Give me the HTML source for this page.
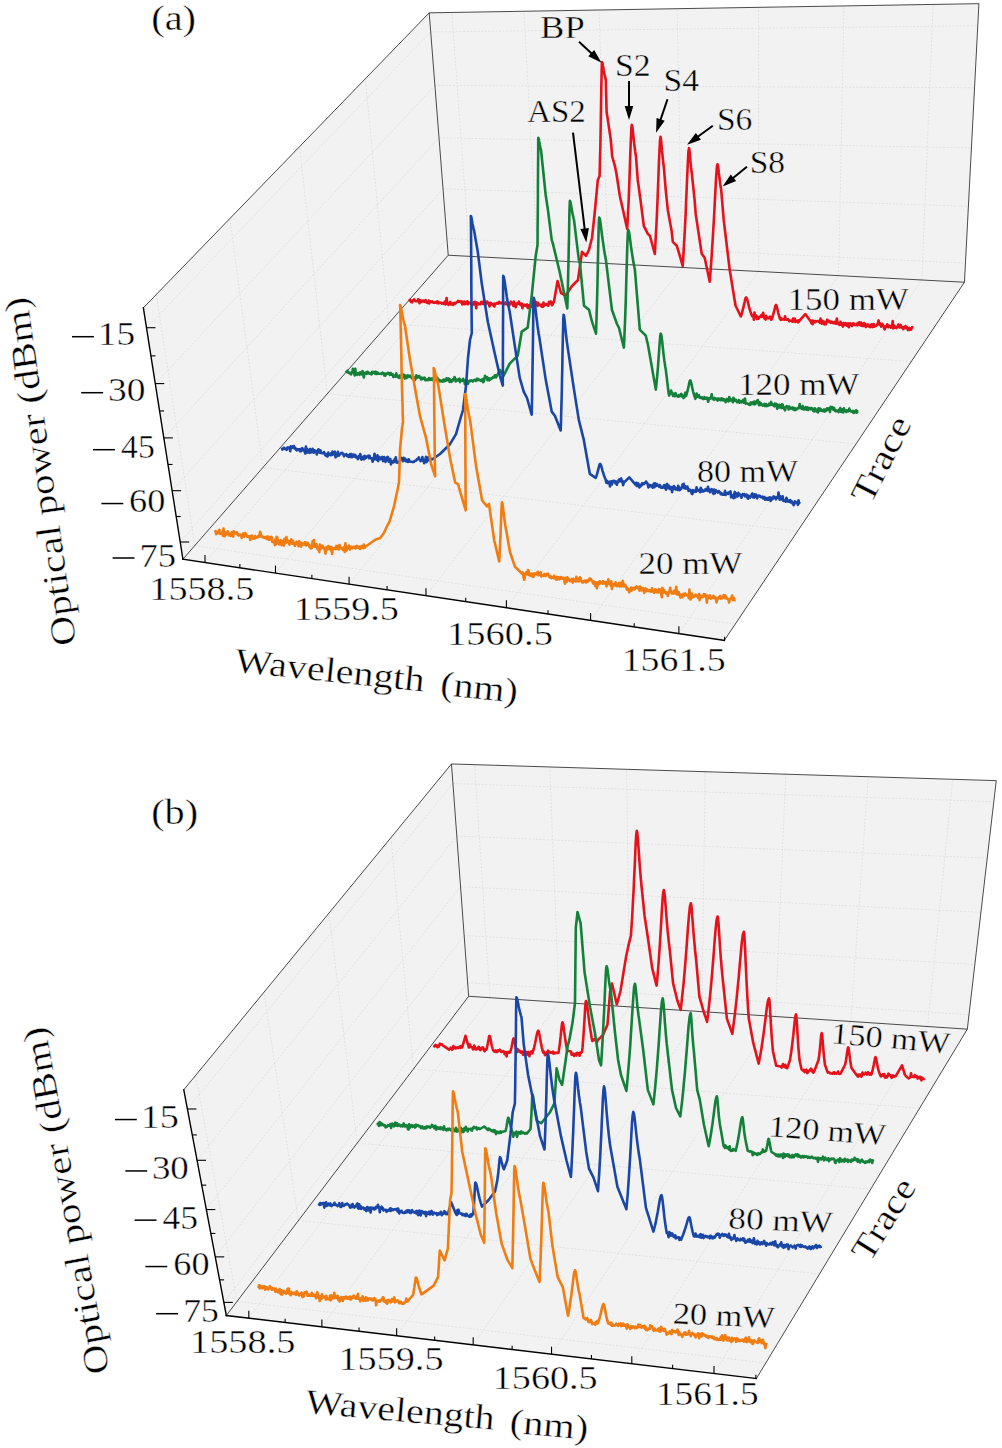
<!DOCTYPE html>
<html><head><meta charset="utf-8"><style>
html,body{margin:0;padding:0;background:#fff;overflow:hidden;width:1002px;height:1448px;}
svg{display:block;}
text{font-family:"Liberation Serif",serif;fill:#000;}
</style></head><body>
<svg width="1002" height="1448" viewBox="0 0 1002 1448">
<rect width="1002" height="1448" fill="#fff"/>
<polygon points="448.23,255.23 964.46,282.23 978.92,3.66 429.21,12.84" fill="#f2f2f2"/>
<polygon points="182.91,559.20 448.23,255.23 429.21,12.84 143.36,307.83" fill="#f2f2f2"/>
<polygon points="182.91,559.20 724.31,640.45 964.46,282.23 448.23,255.23" fill="#f2f2f2"/>
<line x1="469.65" y1="256.35" x2="451.82" y2="12.46" stroke="#cfcfcf" stroke-width="0.5" stroke-dasharray="2,1.6" fill="none"/>
<line x1="205.01" y1="562.52" x2="469.65" y2="256.35" stroke="#cfcfcf" stroke-width="0.5" stroke-dasharray="2,1.6" fill="none"/>
<line x1="537.76" y1="259.91" x2="523.84" y2="11.26" stroke="#cfcfcf" stroke-width="0.5" stroke-dasharray="2,1.6" fill="none"/>
<line x1="275.49" y1="573.10" x2="537.76" y2="259.91" stroke="#cfcfcf" stroke-width="0.5" stroke-dasharray="2,1.6" fill="none"/>
<line x1="608.54" y1="263.61" x2="598.86" y2="10.01" stroke="#cfcfcf" stroke-width="0.5" stroke-dasharray="2,1.6" fill="none"/>
<line x1="349.07" y1="584.14" x2="608.54" y2="263.61" stroke="#cfcfcf" stroke-width="0.5" stroke-dasharray="2,1.6" fill="none"/>
<line x1="682.16" y1="267.47" x2="677.08" y2="8.70" stroke="#cfcfcf" stroke-width="0.5" stroke-dasharray="2,1.6" fill="none"/>
<line x1="425.96" y1="595.68" x2="682.16" y2="267.47" stroke="#cfcfcf" stroke-width="0.5" stroke-dasharray="2,1.6" fill="none"/>
<line x1="758.78" y1="271.47" x2="758.71" y2="7.34" stroke="#cfcfcf" stroke-width="0.5" stroke-dasharray="2,1.6" fill="none"/>
<line x1="506.39" y1="607.75" x2="758.78" y2="271.47" stroke="#cfcfcf" stroke-width="0.5" stroke-dasharray="2,1.6" fill="none"/>
<line x1="838.60" y1="275.65" x2="843.98" y2="5.92" stroke="#cfcfcf" stroke-width="0.5" stroke-dasharray="2,1.6" fill="none"/>
<line x1="590.60" y1="620.38" x2="838.60" y2="275.65" stroke="#cfcfcf" stroke-width="0.5" stroke-dasharray="2,1.6" fill="none"/>
<line x1="921.82" y1="280.00" x2="933.13" y2="4.43" stroke="#cfcfcf" stroke-width="0.5" stroke-dasharray="2,1.6" fill="none"/>
<line x1="678.88" y1="633.63" x2="921.82" y2="280.00" stroke="#cfcfcf" stroke-width="0.5" stroke-dasharray="2,1.6" fill="none"/>
<line x1="446.92" y1="238.53" x2="965.45" y2="263.20" stroke="#cfcfcf" stroke-width="0.5" stroke-dasharray="2,1.6" fill="none"/>
<line x1="180.20" y1="542.00" x2="446.92" y2="238.53" stroke="#cfcfcf" stroke-width="0.5" stroke-dasharray="2,1.6" fill="none"/>
<line x1="443.02" y1="188.80" x2="968.40" y2="206.39" stroke="#cfcfcf" stroke-width="0.5" stroke-dasharray="2,1.6" fill="none"/>
<line x1="172.13" y1="490.67" x2="443.02" y2="188.80" stroke="#cfcfcf" stroke-width="0.5" stroke-dasharray="2,1.6" fill="none"/>
<line x1="439.02" y1="137.82" x2="971.43" y2="147.92" stroke="#cfcfcf" stroke-width="0.5" stroke-dasharray="2,1.6" fill="none"/>
<line x1="163.82" y1="437.89" x2="439.02" y2="137.82" stroke="#cfcfcf" stroke-width="0.5" stroke-dasharray="2,1.6" fill="none"/>
<line x1="434.91" y1="85.53" x2="974.56" y2="87.74" stroke="#cfcfcf" stroke-width="0.5" stroke-dasharray="2,1.6" fill="none"/>
<line x1="155.28" y1="383.59" x2="434.91" y2="85.53" stroke="#cfcfcf" stroke-width="0.5" stroke-dasharray="2,1.6" fill="none"/>
<line x1="430.70" y1="31.89" x2="977.77" y2="25.74" stroke="#cfcfcf" stroke-width="0.5" stroke-dasharray="2,1.6" fill="none"/>
<line x1="146.49" y1="327.72" x2="430.70" y2="31.89" stroke="#cfcfcf" stroke-width="0.5" stroke-dasharray="2,1.6" fill="none"/>
<line x1="194.81" y1="545.57" x2="735.26" y2="624.12" stroke="#cfcfcf" stroke-width="0.5" stroke-dasharray="2,1.6" fill="none"/>
<line x1="194.81" y1="545.57" x2="156.26" y2="294.51" stroke="#cfcfcf" stroke-width="0.5" stroke-dasharray="2,1.6" fill="none"/>
<line x1="262.86" y1="467.60" x2="797.54" y2="531.21" stroke="#cfcfcf" stroke-width="0.5" stroke-dasharray="2,1.6" fill="none"/>
<line x1="262.86" y1="467.60" x2="229.92" y2="218.50" stroke="#cfcfcf" stroke-width="0.5" stroke-dasharray="2,1.6" fill="none"/>
<line x1="327.39" y1="393.68" x2="856.10" y2="443.87" stroke="#cfcfcf" stroke-width="0.5" stroke-dasharray="2,1.6" fill="none"/>
<line x1="327.39" y1="393.68" x2="299.51" y2="146.68" stroke="#cfcfcf" stroke-width="0.5" stroke-dasharray="2,1.6" fill="none"/>
<line x1="388.65" y1="323.49" x2="911.24" y2="361.61" stroke="#cfcfcf" stroke-width="0.5" stroke-dasharray="2,1.6" fill="none"/>
<line x1="388.65" y1="323.49" x2="365.37" y2="78.72" stroke="#cfcfcf" stroke-width="0.5" stroke-dasharray="2,1.6" fill="none"/>
<line x1="143.36" y1="307.83" x2="429.21" y2="12.84" stroke="#2a2a2a" stroke-width="0.85" fill="none"/>
<line x1="429.21" y1="12.84" x2="978.92" y2="3.66" stroke="#2a2a2a" stroke-width="0.85" fill="none"/>
<line x1="978.92" y1="3.66" x2="964.46" y2="282.23" stroke="#2a2a2a" stroke-width="0.85" fill="none"/>
<line x1="429.21" y1="12.84" x2="448.23" y2="255.23" stroke="#2a2a2a" stroke-width="0.85" fill="none"/>
<line x1="448.23" y1="255.23" x2="182.91" y2="559.20" stroke="#2a2a2a" stroke-width="0.85" fill="none"/>
<line x1="448.23" y1="255.23" x2="964.46" y2="282.23" stroke="#2a2a2a" stroke-width="0.85" fill="none"/>
<line x1="964.46" y1="282.23" x2="724.31" y2="640.45" stroke="#2a2a2a" stroke-width="0.85" fill="none"/>
<line x1="182.91" y1="559.20" x2="143.36" y2="307.83" stroke="#000" stroke-width="1.4" fill="none" stroke-linecap="square"/>
<line x1="182.91" y1="559.20" x2="724.31" y2="640.45" stroke="#000" stroke-width="1.4" fill="none" stroke-linecap="square"/>
<line x1="205.01" y1="562.52" x2="205.01" y2="555.02" stroke="#000" stroke-width="1.1"/>
<line x1="239.87" y1="567.75" x2="239.87" y2="563.95" stroke="#000" stroke-width="1.1"/>
<line x1="275.49" y1="573.10" x2="275.49" y2="565.60" stroke="#000" stroke-width="1.1"/>
<line x1="311.88" y1="578.56" x2="311.88" y2="574.76" stroke="#000" stroke-width="1.1"/>
<line x1="349.07" y1="584.14" x2="349.07" y2="576.64" stroke="#000" stroke-width="1.1"/>
<line x1="387.08" y1="589.84" x2="387.08" y2="586.04" stroke="#000" stroke-width="1.1"/>
<line x1="425.96" y1="595.68" x2="425.96" y2="588.18" stroke="#000" stroke-width="1.1"/>
<line x1="465.71" y1="601.64" x2="465.71" y2="597.84" stroke="#000" stroke-width="1.1"/>
<line x1="506.39" y1="607.75" x2="506.39" y2="600.25" stroke="#000" stroke-width="1.1"/>
<line x1="548.00" y1="613.99" x2="548.00" y2="610.19" stroke="#000" stroke-width="1.1"/>
<line x1="590.60" y1="620.38" x2="590.60" y2="612.88" stroke="#000" stroke-width="1.1"/>
<line x1="634.22" y1="626.93" x2="634.22" y2="623.13" stroke="#000" stroke-width="1.1"/>
<line x1="678.88" y1="633.63" x2="678.88" y2="626.13" stroke="#000" stroke-width="1.1"/>
<line x1="724.64" y1="640.50" x2="724.64" y2="636.70" stroke="#000" stroke-width="1.1"/>
<line x1="180.20" y1="542.00" x2="189.20" y2="542.00" stroke="#000" stroke-width="1.1"/>
<line x1="176.19" y1="516.51" x2="180.69" y2="516.51" stroke="#000" stroke-width="1.1"/>
<line x1="172.13" y1="490.67" x2="181.13" y2="490.67" stroke="#000" stroke-width="1.1"/>
<line x1="168.00" y1="464.46" x2="172.50" y2="464.46" stroke="#000" stroke-width="1.1"/>
<line x1="163.82" y1="437.89" x2="172.82" y2="437.89" stroke="#000" stroke-width="1.1"/>
<line x1="159.58" y1="410.93" x2="164.08" y2="410.93" stroke="#000" stroke-width="1.1"/>
<line x1="155.28" y1="383.59" x2="164.28" y2="383.59" stroke="#000" stroke-width="1.1"/>
<line x1="150.92" y1="355.86" x2="155.42" y2="355.86" stroke="#000" stroke-width="1.1"/>
<line x1="146.49" y1="327.72" x2="155.49" y2="327.72" stroke="#000" stroke-width="1.1"/>
<polygon points="468.65,996.28 967.33,1029.15 996.26,780.63 451.47,763.94" fill="#f2f2f2"/>
<polygon points="226.32,1315.53 468.65,996.28 451.47,763.94 183.77,1089.84" fill="#f2f2f2"/>
<polygon points="226.32,1315.53 756.41,1378.53 967.33,1029.15 468.65,996.28" fill="#f2f2f2"/>
<line x1="489.95" y1="997.69" x2="474.59" y2="764.64" stroke="#cfcfcf" stroke-width="0.5" stroke-dasharray="2,1.6" fill="none"/>
<line x1="248.80" y1="1318.20" x2="489.95" y2="997.69" stroke="#cfcfcf" stroke-width="0.5" stroke-dasharray="2,1.6" fill="none"/>
<line x1="559.08" y1="1002.24" x2="549.72" y2="766.95" stroke="#cfcfcf" stroke-width="0.5" stroke-dasharray="2,1.6" fill="none"/>
<line x1="321.87" y1="1326.89" x2="559.08" y2="1002.24" stroke="#cfcfcf" stroke-width="0.5" stroke-dasharray="2,1.6" fill="none"/>
<line x1="629.68" y1="1006.90" x2="626.59" y2="769.30" stroke="#cfcfcf" stroke-width="0.5" stroke-dasharray="2,1.6" fill="none"/>
<line x1="396.65" y1="1335.78" x2="629.68" y2="1006.90" stroke="#cfcfcf" stroke-width="0.5" stroke-dasharray="2,1.6" fill="none"/>
<line x1="701.79" y1="1011.65" x2="705.26" y2="771.71" stroke="#cfcfcf" stroke-width="0.5" stroke-dasharray="2,1.6" fill="none"/>
<line x1="473.18" y1="1344.87" x2="701.79" y2="1011.65" stroke="#cfcfcf" stroke-width="0.5" stroke-dasharray="2,1.6" fill="none"/>
<line x1="775.46" y1="1016.50" x2="785.78" y2="774.18" stroke="#cfcfcf" stroke-width="0.5" stroke-dasharray="2,1.6" fill="none"/>
<line x1="551.54" y1="1354.18" x2="775.46" y2="1016.50" stroke="#cfcfcf" stroke-width="0.5" stroke-dasharray="2,1.6" fill="none"/>
<line x1="850.74" y1="1021.46" x2="868.24" y2="776.70" stroke="#cfcfcf" stroke-width="0.5" stroke-dasharray="2,1.6" fill="none"/>
<line x1="631.79" y1="1363.72" x2="850.74" y2="1021.46" stroke="#cfcfcf" stroke-width="0.5" stroke-dasharray="2,1.6" fill="none"/>
<line x1="927.69" y1="1026.54" x2="952.69" y2="779.29" stroke="#cfcfcf" stroke-width="0.5" stroke-dasharray="2,1.6" fill="none"/>
<line x1="713.99" y1="1373.49" x2="927.69" y2="1026.54" stroke="#cfcfcf" stroke-width="0.5" stroke-dasharray="2,1.6" fill="none"/>
<line x1="467.64" y1="982.65" x2="969.01" y2="1014.66" stroke="#cfcfcf" stroke-width="0.5" stroke-dasharray="2,1.6" fill="none"/>
<line x1="223.84" y1="1302.40" x2="467.64" y2="982.65" stroke="#cfcfcf" stroke-width="0.5" stroke-dasharray="2,1.6" fill="none"/>
<line x1="464.15" y1="935.52" x2="974.86" y2="964.47" stroke="#cfcfcf" stroke-width="0.5" stroke-dasharray="2,1.6" fill="none"/>
<line x1="215.26" y1="1256.88" x2="464.15" y2="935.52" stroke="#cfcfcf" stroke-width="0.5" stroke-dasharray="2,1.6" fill="none"/>
<line x1="460.54" y1="886.68" x2="980.93" y2="912.33" stroke="#cfcfcf" stroke-width="0.5" stroke-dasharray="2,1.6" fill="none"/>
<line x1="206.34" y1="1209.54" x2="460.54" y2="886.68" stroke="#cfcfcf" stroke-width="0.5" stroke-dasharray="2,1.6" fill="none"/>
<line x1="456.80" y1="836.04" x2="987.24" y2="858.10" stroke="#cfcfcf" stroke-width="0.5" stroke-dasharray="2,1.6" fill="none"/>
<line x1="197.05" y1="1160.29" x2="456.80" y2="836.04" stroke="#cfcfcf" stroke-width="0.5" stroke-dasharray="2,1.6" fill="none"/>
<line x1="452.91" y1="783.49" x2="993.81" y2="801.68" stroke="#cfcfcf" stroke-width="0.5" stroke-dasharray="2,1.6" fill="none"/>
<line x1="187.38" y1="1108.99" x2="452.91" y2="783.49" stroke="#cfcfcf" stroke-width="0.5" stroke-dasharray="2,1.6" fill="none"/>
<line x1="237.00" y1="1301.46" x2="765.78" y2="1363.02" stroke="#cfcfcf" stroke-width="0.5" stroke-dasharray="2,1.6" fill="none"/>
<line x1="237.00" y1="1301.46" x2="195.67" y2="1075.36" stroke="#cfcfcf" stroke-width="0.5" stroke-dasharray="2,1.6" fill="none"/>
<line x1="298.45" y1="1220.51" x2="819.51" y2="1274.01" stroke="#cfcfcf" stroke-width="0.5" stroke-dasharray="2,1.6" fill="none"/>
<line x1="298.45" y1="1220.51" x2="263.92" y2="992.26" stroke="#cfcfcf" stroke-width="0.5" stroke-dasharray="2,1.6" fill="none"/>
<line x1="357.22" y1="1143.09" x2="870.72" y2="1189.18" stroke="#cfcfcf" stroke-width="0.5" stroke-dasharray="2,1.6" fill="none"/>
<line x1="357.22" y1="1143.09" x2="328.93" y2="913.12" stroke="#cfcfcf" stroke-width="0.5" stroke-dasharray="2,1.6" fill="none"/>
<line x1="413.48" y1="1068.96" x2="919.58" y2="1108.23" stroke="#cfcfcf" stroke-width="0.5" stroke-dasharray="2,1.6" fill="none"/>
<line x1="413.48" y1="1068.96" x2="390.93" y2="837.64" stroke="#cfcfcf" stroke-width="0.5" stroke-dasharray="2,1.6" fill="none"/>
<line x1="183.77" y1="1089.84" x2="451.47" y2="763.94" stroke="#2a2a2a" stroke-width="0.85" fill="none"/>
<line x1="451.47" y1="763.94" x2="996.26" y2="780.63" stroke="#2a2a2a" stroke-width="0.85" fill="none"/>
<line x1="996.26" y1="780.63" x2="967.33" y2="1029.15" stroke="#2a2a2a" stroke-width="0.85" fill="none"/>
<line x1="451.47" y1="763.94" x2="468.65" y2="996.28" stroke="#2a2a2a" stroke-width="0.85" fill="none"/>
<line x1="468.65" y1="996.28" x2="226.32" y2="1315.53" stroke="#2a2a2a" stroke-width="0.85" fill="none"/>
<line x1="468.65" y1="996.28" x2="967.33" y2="1029.15" stroke="#2a2a2a" stroke-width="0.85" fill="none"/>
<line x1="967.33" y1="1029.15" x2="756.41" y2="1378.53" stroke="#2a2a2a" stroke-width="0.85" fill="none"/>
<line x1="226.32" y1="1315.53" x2="183.77" y2="1089.84" stroke="#000" stroke-width="1.4" fill="none" stroke-linecap="square"/>
<line x1="226.32" y1="1315.53" x2="756.41" y2="1378.53" stroke="#000" stroke-width="1.4" fill="none" stroke-linecap="square"/>
<line x1="248.80" y1="1318.20" x2="248.80" y2="1310.70" stroke="#000" stroke-width="1.1"/>
<line x1="285.13" y1="1322.52" x2="285.13" y2="1318.72" stroke="#000" stroke-width="1.1"/>
<line x1="321.87" y1="1326.89" x2="321.87" y2="1319.39" stroke="#000" stroke-width="1.1"/>
<line x1="359.05" y1="1331.31" x2="359.05" y2="1327.51" stroke="#000" stroke-width="1.1"/>
<line x1="396.65" y1="1335.78" x2="396.65" y2="1328.28" stroke="#000" stroke-width="1.1"/>
<line x1="434.69" y1="1340.30" x2="434.69" y2="1336.50" stroke="#000" stroke-width="1.1"/>
<line x1="473.18" y1="1344.87" x2="473.18" y2="1337.37" stroke="#000" stroke-width="1.1"/>
<line x1="512.13" y1="1349.50" x2="512.13" y2="1345.70" stroke="#000" stroke-width="1.1"/>
<line x1="551.54" y1="1354.18" x2="551.54" y2="1346.68" stroke="#000" stroke-width="1.1"/>
<line x1="591.42" y1="1358.92" x2="591.42" y2="1355.12" stroke="#000" stroke-width="1.1"/>
<line x1="631.79" y1="1363.72" x2="631.79" y2="1356.22" stroke="#000" stroke-width="1.1"/>
<line x1="672.64" y1="1368.57" x2="672.64" y2="1364.77" stroke="#000" stroke-width="1.1"/>
<line x1="713.99" y1="1373.49" x2="713.99" y2="1365.99" stroke="#000" stroke-width="1.1"/>
<line x1="755.85" y1="1378.46" x2="755.85" y2="1374.66" stroke="#000" stroke-width="1.1"/>
<line x1="223.84" y1="1302.40" x2="232.84" y2="1302.40" stroke="#000" stroke-width="1.1"/>
<line x1="219.59" y1="1279.86" x2="224.09" y2="1279.86" stroke="#000" stroke-width="1.1"/>
<line x1="215.26" y1="1256.88" x2="224.26" y2="1256.88" stroke="#000" stroke-width="1.1"/>
<line x1="210.84" y1="1233.44" x2="215.34" y2="1233.44" stroke="#000" stroke-width="1.1"/>
<line x1="206.34" y1="1209.54" x2="215.34" y2="1209.54" stroke="#000" stroke-width="1.1"/>
<line x1="201.74" y1="1185.16" x2="206.24" y2="1185.16" stroke="#000" stroke-width="1.1"/>
<line x1="197.05" y1="1160.29" x2="206.05" y2="1160.29" stroke="#000" stroke-width="1.1"/>
<line x1="192.26" y1="1134.90" x2="196.76" y2="1134.90" stroke="#000" stroke-width="1.1"/>
<line x1="187.38" y1="1108.99" x2="196.38" y2="1108.99" stroke="#000" stroke-width="1.1"/>
<path d="M409.3,301.5 L409.9,299.8 L410.5,301.2 L411.1,301.9 L411.7,300.7 L412.3,302.3 L412.9,300.2 L413.5,300.3 L414.1,299.4 L414.7,300.1 L415.3,301.1 L415.9,301.3 L416.5,301.3 L417.1,301.1 L417.7,301.1 L418.3,299.2 L418.9,300.1 L419.5,303.2 L420.1,300.3 L420.7,301.2 L421.3,300.8 L421.9,301.8 L422.5,301.3 L423.1,300.5 L423.7,300.6 L424.3,301.9 L425.0,301.2 L425.6,300.1 L426.2,302.3 L426.8,302.6 L427.4,302.9 L428.0,302.7 L428.6,300.5 L429.2,303.5 L429.8,301.8 L430.4,301.4 L431.0,302.0 L431.6,301.8 L432.2,301.3 L432.8,302.3 L433.4,302.7 L434.0,302.3 L434.6,302.7 L435.2,302.6 L435.8,302.0 L436.4,301.9 L437.0,303.2 L437.6,301.4 L438.2,302.1 L438.8,303.3 L439.4,302.5 L440.0,302.5 L440.6,302.8 L441.2,302.7 L441.8,303.6 L442.4,303.0 L443.0,303.2 L443.6,303.8 L444.2,302.8 L444.8,301.7 L445.4,304.5 L446.0,303.8 L446.6,298.0 L447.2,303.3 L447.8,303.0 L448.4,304.9 L449.0,303.4 L449.6,302.9 L450.3,301.8 L450.9,304.5 L451.5,304.4 L452.1,304.1 L452.7,303.4 L453.3,304.9 L453.9,303.3 L454.5,302.8 L455.1,303.7 L455.7,303.0 L456.3,302.9 L456.9,302.0 L457.5,302.0 L458.1,300.8 L458.7,301.8 L459.3,301.8 L459.9,301.2 L460.5,302.0 L461.1,302.4 L461.7,301.4 L462.3,304.4 L462.9,302.3 L463.5,302.8 L464.1,301.5 L464.7,304.2 L465.3,304.0 L465.9,303.1 L466.5,302.3 L467.1,301.4 L467.7,304.3 L468.3,302.0 L468.9,302.5 L469.5,303.0 L470.2,303.5 L470.8,303.4 L471.4,303.5 L472.0,305.6 L472.6,303.6 L473.2,304.0 L473.8,302.3 L474.4,304.3 L475.0,301.7 L475.6,302.9 L476.2,308.3 L476.8,302.5 L477.4,303.1 L478.0,303.6 L478.6,304.3 L479.2,303.7 L479.8,303.8 L480.4,304.2 L481.0,302.3 L481.6,301.8 L482.2,302.8 L482.8,303.7 L483.5,304.0 L484.1,300.0 L484.7,302.8 L485.3,304.7 L485.9,303.1 L486.5,303.6 L487.1,301.5 L487.7,303.1 L488.3,303.5 L488.9,303.0 L489.5,306.5 L490.2,304.4 L490.8,302.9 L491.4,304.0 L492.0,303.9 L492.6,304.2 L493.2,305.5 L493.8,303.8 L494.4,306.6 L495.0,303.5 L495.6,304.1 L496.2,303.7 L496.9,303.1 L497.5,303.5 L498.1,303.6 L498.7,302.3 L499.3,301.8 L499.9,302.5 L500.5,303.1 L501.1,303.2 L501.7,302.7 L502.3,302.9 L502.9,303.2 L503.6,303.3 L504.2,303.8 L504.8,303.1 L505.4,302.5 L506.0,304.2 L506.6,304.2 L507.2,303.9 L507.8,304.4 L508.4,302.9 L509.0,305.6 L509.6,304.7 L510.3,302.9 L510.9,301.6 L511.5,302.7 L512.1,303.5 L512.7,304.0 L513.3,306.0 L513.9,301.6 L514.5,303.2 L515.1,304.3 L515.7,307.2 L516.3,303.5 L517.0,304.1 L517.6,304.2 L518.2,303.6 L518.8,301.6 L519.4,303.0 L520.0,304.5 L520.6,303.7 L521.2,305.3 L521.8,303.5 L522.4,308.3 L523.0,305.3 L523.6,305.3 L524.2,304.8 L524.8,304.8 L525.4,306.0 L526.0,305.3 L526.6,306.1 L527.2,304.4 L527.8,308.0 L528.4,305.3 L529.0,307.9 L529.6,305.3 L530.2,305.9 L530.8,304.5 L531.4,306.8 L532.0,306.1 L532.6,304.4 L533.2,301.8 L533.9,305.3 L534.5,302.5 L535.1,303.3 L535.7,303.7 L536.3,302.2 L536.9,304.6 L537.5,306.0 L538.1,302.9 L538.7,303.7 L539.3,305.1 L539.9,305.3 L540.5,305.4 L541.1,304.6 L541.7,306.7 L542.3,304.7 L542.9,306.8 L543.5,302.5 L544.1,305.9 L544.7,304.1 L545.3,304.7 L545.9,304.6 L546.5,304.2 L547.1,304.9 L547.7,304.8 L548.3,305.7 L548.9,301.9 L549.6,303.4 L550.2,303.5 L550.8,301.6 L551.4,302.1 L552.0,305.3 L552.7,304.3 L553.3,302.9 L553.9,302.0 L557.6,281.0 L561.0,293.0 L565.6,295.5 L572.0,286.0 L578.0,280.0 L582.0,251.8 L586.0,255.8 L589.0,249.8 L592.0,238.0 L595.0,210.0 L597.8,180.0 L599.6,176.0 L599.8,167.6 L600.0,158.5 L600.3,148.7 L600.5,138.0 L600.7,126.5 L600.9,114.0 L601.1,100.8 L601.3,87.4 L601.6,74.9 L601.8,65.6 L602.0,62.0 L602.3,62.6 L602.7,64.0 L603.0,66.0 L603.4,68.1 L603.7,70.2 L604.1,72.2 L604.4,74.0 L604.8,75.7 L605.1,77.2 L605.5,78.7 L605.8,80.0 L606.6,111.8 L610.8,139.8 L612.2,156.5 L614.8,165.7 L616.4,173.2 L619.8,195.7 L623.0,210.0 L627.2,229.0 L627.6,221.3 L628.0,213.0 L628.5,204.1 L628.9,194.3 L629.3,183.8 L629.7,172.4 L630.1,160.3 L630.5,148.1 L631.0,136.7 L631.4,128.1 L631.8,124.9 L632.2,125.9 L632.6,128.5 L632.9,131.9 L633.3,135.7 L633.7,139.3 L634.1,142.8 L634.5,146.0 L634.9,148.9 L635.2,151.7 L635.6,154.2 L636.0,156.5 L637.7,179.7 L640.5,200.0 L643.8,225.9 L647.8,233.9 L650.0,236.0 L654.8,254.0 L655.3,245.4 L655.8,236.0 L656.4,225.9 L656.9,215.0 L657.4,203.1 L657.9,190.3 L658.4,176.8 L658.9,163.0 L659.5,150.1 L660.0,140.5 L660.5,136.9 L660.8,137.9 L661.1,140.4 L661.4,143.7 L661.7,147.4 L662.0,150.9 L662.4,154.3 L662.7,157.4 L663.0,160.2 L663.3,162.9 L663.6,165.3 L663.9,167.6 L665.7,189.7 L667.8,209.9 L671.7,231.6 L672.8,241.9 L676.8,245.8 L679.0,253.0 L682.7,266.0 L683.3,257.3 L683.8,247.9 L684.4,237.8 L685.0,226.7 L685.6,214.8 L686.1,201.9 L686.7,188.2 L687.3,174.3 L687.9,161.4 L688.4,151.8 L689.0,148.1 L689.3,148.9 L689.5,150.9 L689.8,153.7 L690.0,156.6 L690.3,159.6 L690.5,162.3 L690.8,164.8 L691.0,167.2 L691.3,169.4 L691.5,171.3 L691.8,173.2 L694.6,199.8 L695.7,213.9 L701.7,253.8 L704.7,257.8 L709.7,281.8 L710.4,273.1 L711.1,263.8 L711.8,253.7 L712.5,242.7 L713.2,230.8 L714.0,217.9 L714.7,204.3 L715.4,190.5 L716.1,177.6 L716.8,168.0 L717.5,164.3 L717.8,165.1 L718.2,167.2 L718.5,170.0 L718.8,173.0 L719.2,176.0 L719.5,178.8 L719.9,181.4 L720.2,183.8 L720.5,186.1 L720.9,188.1 L721.2,190.0 L723.7,219.9 L729.7,269.8 L735.5,305.5 L740.8,316.5 L741.3,315.1 L741.8,313.6 L742.2,311.9 L742.7,310.1 L743.2,308.2 L743.7,306.1 L744.2,303.9 L744.7,301.7 L745.1,299.6 L745.6,298.0 L746.1,297.4 L746.6,298.0 L747.2,299.5 L747.7,301.5 L748.2,303.7 L748.8,305.9 L749.3,307.9 L749.9,309.8 L750.4,311.5 L750.9,313.1 L751.5,314.6 L752.0,316.0 L752.6,316.0 L753.2,315.4 L753.9,319.8 L754.5,312.5 L755.1,316.8 L755.7,317.1 L756.3,315.6 L757.0,319.1 L757.6,317.1 L758.2,318.7 L758.8,317.0 L759.4,317.5 L760.0,316.5 L760.7,316.5 L761.3,315.1 L761.9,317.0 L762.5,315.8 L763.1,312.8 L763.8,315.5 L764.4,318.5 L765.0,316.3 L765.6,319.6 L766.2,315.9 L766.8,317.6 L767.5,318.0 L768.1,318.4 L768.7,318.1 L769.3,317.5 L769.9,316.6 L770.6,318.8 L771.2,319.7 L771.8,318.9 L772.2,317.9 L772.6,316.8 L772.9,315.5 L773.3,314.2 L773.7,312.8 L774.1,311.3 L774.5,309.7 L774.9,308.0 L775.2,306.5 L775.6,305.3 L776.0,304.9 L776.4,305.3 L776.7,306.5 L777.1,308.0 L777.5,309.7 L777.9,311.3 L778.2,312.8 L778.6,314.2 L779.0,315.5 L779.4,316.8 L779.7,317.9 L780.1,318.9 L780.7,319.8 L781.3,318.2 L781.9,319.2 L782.6,319.4 L783.2,319.4 L783.8,319.3 L784.4,319.6 L785.0,316.3 L785.6,319.1 L786.2,319.8 L786.8,319.7 L787.5,319.6 L788.1,319.1 L788.7,320.3 L789.3,321.2 L789.9,320.5 L790.5,320.7 L791.1,320.8 L791.7,320.9 L792.4,321.7 L793.0,318.5 L793.6,321.4 L794.2,319.0 L794.8,318.7 L795.4,321.9 L796.0,321.4 L796.6,320.9 L797.2,320.8 L797.9,322.3 L798.5,320.4 L799.1,321.6 L799.7,320.3 L805.3,314.1 L810.9,321.7 L811.5,323.4 L812.1,320.5 L812.7,324.2 L813.3,320.9 L813.9,322.1 L814.5,321.7 L815.1,322.3 L815.7,321.2 L816.3,321.5 L816.9,321.3 L817.5,321.1 L818.1,321.5 L818.7,321.1 L819.3,321.9 L819.9,322.7 L820.5,318.6 L821.1,322.0 L821.7,323.6 L822.4,320.8 L823.0,321.4 L823.6,324.0 L824.2,321.8 L824.8,324.4 L825.4,322.6 L826.0,324.2 L826.6,322.0 L827.2,319.7 L827.8,320.4 L828.4,320.7 L829.0,322.0 L829.6,321.2 L830.2,322.5 L830.8,322.9 L831.4,321.6 L832.0,321.7 L832.6,322.7 L833.2,323.1 L833.8,322.4 L834.4,321.9 L835.0,323.2 L835.6,323.7 L836.2,323.8 L836.8,318.6 L837.4,322.5 L838.0,322.7 L838.6,324.4 L839.3,323.5 L839.9,324.9 L840.5,321.7 L841.1,324.1 L841.7,324.8 L842.3,324.1 L842.9,326.6 L843.5,323.1 L844.1,324.9 L844.7,325.0 L845.3,323.1 L845.9,324.3 L846.5,323.5 L847.1,326.0 L847.7,324.8 L848.3,323.4 L848.9,327.2 L849.5,324.1 L850.2,323.2 L850.8,324.5 L851.4,324.6 L852.0,326.0 L852.6,323.5 L853.2,323.4 L853.8,323.6 L854.4,324.8 L855.0,325.0 L855.6,324.5 L856.2,324.8 L856.8,323.7 L857.4,325.3 L858.0,325.0 L858.6,322.5 L859.2,324.7 L859.8,322.4 L860.5,325.5 L861.1,322.6 L861.7,323.5 L862.3,325.9 L862.9,325.1 L863.5,326.0 L864.1,323.0 L864.7,325.9 L865.3,324.3 L865.9,327.1 L866.5,325.6 L867.1,325.9 L867.7,324.3 L868.3,324.6 L868.9,325.7 L869.5,326.9 L870.2,327.1 L870.8,325.5 L871.4,324.5 L872.0,324.4 L872.6,327.1 L873.2,325.6 L873.8,324.3 L874.4,326.6 L875.0,325.8 L875.6,325.9 L876.2,325.8 L876.8,325.2 L877.4,324.0 L878.0,322.7 L878.6,320.4 L879.3,324.6 L879.9,323.2 L880.5,324.1 L881.1,326.7 L881.7,324.8 L882.3,323.9 L882.9,325.0 L883.5,325.9 L884.1,328.1 L884.7,329.4 L885.3,326.2 L886.0,326.5 L886.6,326.8 L887.2,324.3 L887.8,326.0 L888.4,327.1 L889.0,325.8 L889.6,325.7 L890.2,326.3 L890.9,327.7 L891.5,327.1 L892.1,326.7 L892.7,321.1 L893.3,328.5 L893.9,325.5 L894.5,326.0 L895.1,327.7 L895.8,327.2 L896.4,328.1 L897.0,327.2 L897.6,326.6 L898.2,324.5 L898.8,326.6 L899.4,327.5 L900.0,326.0 L900.6,324.8 L901.3,327.3 L901.9,326.8 L902.5,327.4 L903.1,329.2 L903.7,327.2 L904.3,328.1 L904.9,328.1 L905.5,326.0 L906.2,327.9 L906.8,327.0 L907.4,328.6 L908.0,330.1 L908.6,328.6 L909.2,328.0 L909.8,329.8 L910.4,328.4 L911.1,329.7 L911.7,327.9 L912.3,327.1 L912.9,327.8" fill="none" stroke="#e5121c" stroke-width="2.6" stroke-linejoin="round" stroke-linecap="butt"/>
<path d="M345.7,372.8 L346.3,371.9 L346.9,371.9 L347.5,370.7 L348.1,372.4 L348.7,373.0 L349.3,373.0 L349.9,372.7 L350.5,374.0 L351.1,374.3 L351.7,373.0 L352.3,372.3 L352.9,368.8 L353.5,370.5 L354.1,372.9 L354.7,375.4 L355.3,368.9 L355.9,374.5 L356.5,374.4 L357.1,374.8 L357.7,373.3 L358.3,373.1 L358.9,373.5 L359.5,374.8 L360.1,372.2 L360.7,374.2 L361.3,373.5 L361.9,374.3 L362.5,371.1 L363.2,373.6 L363.8,377.5 L364.4,373.3 L365.0,372.9 L365.6,373.3 L366.2,372.4 L366.8,373.8 L367.4,371.8 L368.0,372.0 L368.6,372.9 L369.2,373.6 L369.8,373.4 L370.4,373.9 L371.0,373.1 L371.6,374.4 L372.2,371.7 L372.8,372.9 L373.4,372.1 L374.0,372.1 L374.6,373.3 L375.2,373.8 L375.8,371.7 L376.4,372.5 L377.0,374.0 L377.6,372.5 L378.2,373.6 L378.8,373.5 L379.4,373.7 L380.0,373.7 L380.6,373.7 L381.2,373.9 L381.8,373.4 L382.4,372.6 L383.0,373.2 L383.6,373.3 L384.2,375.5 L384.8,373.8 L385.4,375.7 L386.0,373.7 L386.6,373.9 L387.3,373.8 L387.9,372.9 L388.5,372.9 L389.1,373.5 L389.7,374.8 L390.3,373.3 L390.9,373.1 L391.5,374.7 L392.1,374.3 L392.7,374.3 L393.3,376.9 L393.9,375.4 L394.5,376.4 L395.1,375.8 L395.7,376.7 L396.3,373.4 L396.9,375.8 L397.5,376.8 L398.1,376.4 L398.7,377.6 L399.3,375.7 L399.9,377.9 L400.6,375.4 L401.2,376.2 L401.8,376.6 L402.4,375.5 L403.0,375.9 L403.6,374.6 L404.2,377.0 L404.8,378.6 L405.4,375.5 L406.0,377.3 L406.6,378.0 L407.2,376.2 L407.8,375.4 L408.4,377.0 L409.0,376.9 L409.6,376.0 L410.2,375.6 L410.8,377.1 L411.4,377.3 L412.0,378.4 L412.6,377.0 L413.2,376.5 L413.9,378.2 L414.5,378.1 L415.1,379.8 L415.7,378.1 L416.3,375.2 L416.9,377.9 L417.5,377.0 L418.1,376.4 L418.7,377.2 L419.3,376.0 L419.9,377.6 L420.5,377.5 L421.1,379.4 L421.7,377.7 L422.3,379.2 L422.9,378.9 L423.5,377.9 L424.1,378.4 L424.7,377.7 L425.3,380.3 L425.9,380.3 L426.6,379.6 L427.2,379.4 L427.8,380.1 L428.4,380.0 L429.0,378.1 L429.6,379.2 L430.2,379.9 L430.8,378.5 L431.4,379.6 L432.0,378.7 L432.6,379.8 L433.2,378.2 L433.8,378.7 L434.4,379.4 L435.0,377.9 L435.6,377.7 L436.2,379.8 L436.8,377.7 L437.4,378.0 L438.0,380.1 L438.6,379.5 L439.2,379.9 L439.9,381.3 L440.5,380.7 L441.1,381.4 L441.7,381.3 L442.3,380.4 L442.9,381.6 L443.5,379.8 L444.1,379.6 L444.7,381.1 L445.3,380.5 L445.9,380.6 L446.5,378.3 L447.1,380.2 L447.7,378.9 L448.4,378.3 L449.0,379.0 L449.6,382.0 L450.2,379.5 L450.8,381.4 L451.4,381.8 L452.0,380.4 L452.6,380.8 L453.3,379.0 L453.9,379.3 L454.5,377.0 L455.1,378.6 L455.7,381.4 L456.3,381.0 L456.9,379.7 L457.5,380.5 L458.2,379.5 L458.8,380.3 L459.4,378.6 L460.0,382.1 L460.6,379.9 L461.2,380.3 L461.8,379.9 L462.4,380.8 L463.1,378.8 L463.7,380.3 L464.3,380.3 L464.9,384.3 L465.5,382.0 L466.1,380.1 L466.7,380.2 L467.3,381.1 L468.0,383.9 L468.6,382.0 L469.2,381.4 L469.8,380.6 L470.4,381.2 L471.0,380.6 L471.6,380.4 L472.2,381.0 L472.8,381.5 L473.5,380.5 L474.1,380.0 L474.7,379.9 L475.3,379.9 L475.9,381.0 L476.5,380.7 L477.1,378.7 L477.7,379.8 L478.3,379.0 L478.9,379.8 L479.5,380.1 L480.2,380.0 L480.8,380.9 L481.4,379.9 L482.0,380.2 L482.6,379.2 L483.2,382.3 L483.8,381.5 L484.4,379.4 L485.0,375.8 L485.6,377.2 L486.3,377.4 L486.9,377.1 L487.5,380.2 L488.1,378.0 L488.7,378.3 L489.3,380.4 L489.9,378.6 L490.5,379.3 L491.1,378.9 L491.7,378.0 L492.3,378.2 L493.0,377.1 L493.6,377.1 L494.2,377.3 L494.8,375.4 L495.4,375.4 L496.0,377.5 L500.0,370.0 L503.5,376.0 L509.7,363.7 L517.7,355.7 L521.7,331.7 L527.7,327.7 L531.7,295.8 L535.7,255.9 L537.5,245.0 L537.6,237.1 L537.6,228.6 L537.7,219.3 L537.8,209.3 L537.9,198.4 L537.9,186.7 L538.0,174.3 L538.1,161.7 L538.2,149.9 L538.2,141.1 L538.3,137.8 L538.5,138.2 L538.8,139.2 L539.0,140.5 L539.3,142.0 L539.5,143.4 L539.8,144.7 L540.0,145.9 L540.3,147.1 L540.5,148.1 L540.8,149.1 L541.0,150.0 L545.7,195.0 L547.9,209.7 L551.7,239.9 L552.9,243.6 L559.7,272.0 L567.3,308.5 L567.5,300.6 L567.8,292.0 L568.0,282.7 L568.2,272.6 L568.5,261.7 L568.7,249.9 L569.0,237.5 L569.2,224.8 L569.4,213.0 L569.7,204.2 L569.9,200.8 L570.3,201.4 L570.6,203.0 L571.0,205.1 L571.4,207.3 L571.8,209.5 L572.1,211.6 L572.5,213.5 L572.9,215.3 L573.3,217.0 L573.6,218.5 L574.0,219.9 L578.8,259.6 L580.0,263.8 L584.0,305.7 L589.0,309.7 L592.0,321.7 L596.0,333.7 L596.3,325.1 L596.6,315.9 L596.9,305.9 L597.2,295.0 L597.5,283.2 L597.7,270.5 L598.0,257.1 L598.3,243.4 L598.6,230.6 L598.9,221.1 L599.2,217.5 L599.8,218.8 L600.4,222.3 L601.0,226.9 L601.6,231.9 L602.2,236.8 L602.9,241.4 L603.5,245.7 L604.1,249.7 L604.7,253.3 L605.3,256.7 L605.9,259.8 L611.9,309.7 L616.9,323.7 L619.0,328.0 L623.9,347.6 L624.3,338.9 L624.7,329.5 L625.1,319.4 L625.5,308.4 L625.9,296.4 L626.2,283.6 L626.6,269.9 L627.0,256.0 L627.4,243.1 L627.8,233.5 L628.2,229.8 L628.8,231.0 L629.4,234.3 L630.0,238.7 L630.6,243.4 L631.2,248.1 L631.9,252.4 L632.5,256.5 L633.1,260.2 L633.7,263.7 L634.3,266.8 L634.9,269.8 L639.8,329.7 L645.8,335.7 L648.0,345.0 L655.8,389.6 L656.3,385.5 L656.7,381.0 L657.2,376.2 L657.6,371.0 L658.1,365.3 L658.5,359.2 L659.0,352.7 L659.4,346.1 L659.9,340.0 L660.3,335.4 L660.8,333.7 L661.3,334.8 L661.7,337.8 L662.2,341.7 L662.6,345.9 L663.1,350.1 L663.5,354.0 L664.0,357.6 L664.4,361.0 L664.9,364.1 L665.3,367.0 L665.8,369.6 L668.6,393.0 L669.2,395.6 L669.9,392.9 L670.5,393.5 L671.1,390.5 L671.8,392.9 L672.4,393.0 L673.0,395.9 L673.6,394.1 L674.3,394.7 L674.9,396.2 L675.5,393.1 L676.2,395.2 L676.8,395.7 L677.4,396.3 L678.0,396.7 L678.6,395.1 L679.3,396.4 L679.9,396.3 L680.5,394.7 L681.1,393.9 L681.7,394.5 L682.3,396.6 L682.9,396.5 L683.5,397.9 L684.2,397.6 L684.8,394.2 L685.4,392.6 L686.0,396.0 L686.4,394.8 L686.8,393.6 L687.1,392.3 L687.5,390.8 L687.9,389.2 L688.3,387.5 L688.7,385.7 L689.1,383.9 L689.4,382.2 L689.8,380.9 L690.2,380.4 L690.6,380.9 L691.0,382.3 L691.5,384.1 L691.9,386.1 L692.3,388.0 L692.7,389.8 L693.1,391.5 L693.5,393.0 L694.0,394.5 L694.4,395.8 L694.8,397.0 L695.4,398.8 L696.0,395.9 L696.6,393.5 L697.2,396.8 L697.8,396.3 L698.4,396.6 L699.0,395.3 L699.6,397.7 L700.2,397.2 L700.8,397.4 L701.4,398.2 L702.0,397.3 L702.6,398.5 L703.2,399.0 L703.8,397.9 L704.4,397.1 L705.0,398.8 L705.7,398.8 L706.3,398.6 L706.9,397.7 L707.5,398.5 L708.1,401.8 L708.7,399.6 L709.3,398.1 L709.9,398.7 L710.5,398.3 L711.1,397.2 L711.7,394.3 L712.3,398.5 L712.9,399.2 L713.5,399.0 L714.1,399.8 L714.7,397.9 L715.3,398.7 L715.9,399.1 L716.5,399.5 L717.1,398.7 L717.7,400.6 L718.3,398.5 L718.9,399.9 L719.5,398.8 L720.1,399.6 L720.8,400.2 L721.4,398.3 L722.0,400.0 L722.6,398.9 L723.2,400.3 L723.8,399.1 L724.4,400.1 L725.0,399.9 L725.6,402.3 L726.2,401.0 L726.8,399.0 L727.4,400.8 L728.0,399.0 L728.6,401.4 L729.2,397.0 L729.8,398.8 L730.5,400.5 L731.1,399.4 L731.7,400.0 L732.3,400.8 L732.9,402.2 L733.5,397.9 L734.1,399.8 L734.7,400.6 L735.3,400.5 L735.9,399.7 L736.5,401.2 L737.1,402.3 L737.7,402.2 L738.3,401.3 L738.9,400.1 L739.6,402.6 L740.2,402.2 L740.8,401.1 L741.4,402.3 L742.0,401.1 L742.6,401.5 L743.2,399.9 L743.8,402.7 L744.4,400.0 L745.0,398.5 L745.6,403.7 L746.2,402.9 L746.8,403.4 L747.4,403.6 L748.1,403.7 L748.7,404.5 L749.3,404.1 L749.9,404.9 L750.5,402.6 L751.1,404.1 L751.7,404.2 L752.3,402.4 L752.9,403.8 L753.5,403.9 L754.1,401.5 L754.7,404.4 L755.3,403.7 L755.9,403.5 L756.6,401.1 L757.2,402.5 L757.8,400.0 L758.4,402.4 L759.0,405.2 L759.6,402.3 L760.2,405.0 L760.8,403.2 L761.4,404.1 L762.0,404.5 L762.6,405.6 L763.2,405.4 L763.8,404.8 L764.4,403.9 L765.1,406.0 L765.7,404.5 L766.3,404.1 L766.9,406.1 L767.5,405.3 L768.1,405.0 L768.7,405.6 L769.3,403.7 L769.9,404.8 L770.5,404.9 L771.1,401.9 L771.7,404.4 L772.3,404.8 L772.9,404.3 L773.6,405.0 L774.2,406.3 L774.8,403.6 L775.4,406.0 L776.0,406.0 L776.6,403.9 L777.2,408.9 L777.8,404.9 L778.4,405.9 L779.0,407.4 L779.6,404.9 L780.2,407.5 L780.8,407.1 L781.4,408.0 L782.1,404.2 L782.7,404.7 L783.3,407.8 L783.9,408.7 L784.5,409.3 L785.1,410.4 L785.7,406.9 L786.3,407.3 L786.9,406.2 L787.5,406.7 L788.1,407.7 L788.7,409.5 L789.3,406.5 L790.0,408.6 L790.6,408.7 L791.2,407.9 L791.8,408.1 L792.4,407.5 L793.0,409.2 L793.6,408.0 L794.2,409.9 L794.8,408.2 L795.4,410.1 L796.0,408.9 L796.6,408.9 L797.2,409.1 L797.8,408.2 L798.5,408.0 L799.1,406.6 L799.7,404.1 L800.3,408.2 L800.9,408.0 L801.5,408.4 L802.1,408.8 L802.7,406.0 L803.3,407.8 L803.9,409.5 L804.5,408.3 L805.1,408.1 L805.7,407.1 L806.3,409.8 L807.0,409.5 L807.6,407.4 L808.2,410.0 L808.8,408.1 L809.4,408.3 L810.0,408.3 L810.6,409.2 L811.2,407.9 L811.8,408.9 L812.4,408.7 L813.0,410.6 L813.6,409.0 L814.2,411.3 L814.8,408.3 L815.5,410.7 L816.1,411.3 L816.7,409.7 L817.3,410.0 L817.9,412.5 L818.5,408.2 L819.1,408.6 L819.7,410.7 L820.3,408.7 L820.9,409.3 L821.5,410.7 L822.1,410.3 L822.7,410.3 L823.3,411.2 L824.0,409.7 L824.6,411.6 L825.2,409.6 L825.8,409.4 L826.4,410.8 L827.0,408.3 L827.6,409.7 L828.2,409.5 L828.8,408.4 L829.4,409.1 L830.0,411.9 L830.6,406.8 L831.2,407.4 L831.8,407.1 L832.4,407.0 L833.0,409.5 L833.6,409.6 L834.2,408.0 L834.8,410.6 L835.5,411.1 L836.1,410.4 L836.7,411.2 L837.3,410.9 L837.9,410.3 L838.5,412.2 L839.1,409.6 L839.7,410.1 L840.3,408.1 L840.9,411.7 L841.5,410.3 L842.1,412.0 L842.7,409.4 L843.3,412.4 L843.9,408.4 L844.5,410.7 L845.1,410.9 L845.7,410.6 L846.3,412.1 L846.9,410.3 L847.5,411.0 L848.1,411.3 L848.7,410.9 L849.3,408.5 L849.9,410.5 L850.5,411.1 L851.2,411.5 L851.8,411.2 L852.4,411.9 L853.0,410.8 L853.6,412.9 L854.2,411.5 L854.8,412.4 L855.4,411.7 L856.0,410.3 L856.6,412.8 L857.2,411.0 L857.8,411.4 L858.4,411.1" fill="none" stroke="#14803a" stroke-width="2.6" stroke-linejoin="round" stroke-linecap="butt"/>
<path d="M281.8,447.7 L282.4,449.6 L283.0,448.9 L283.6,447.8 L284.2,447.8 L284.8,448.8 L285.4,449.0 L286.0,448.6 L286.6,449.8 L287.2,447.6 L287.8,447.8 L288.4,448.1 L289.0,447.3 L289.6,447.9 L290.2,451.3 L290.8,446.3 L291.5,447.5 L292.1,447.8 L292.7,446.4 L293.3,447.3 L293.9,446.0 L294.5,448.4 L295.1,447.6 L295.7,449.4 L296.3,448.9 L296.9,450.4 L297.5,449.4 L298.1,449.2 L298.7,449.3 L299.3,449.3 L299.9,451.2 L300.5,449.1 L301.1,451.2 L301.7,449.4 L302.3,448.2 L302.9,450.1 L303.5,449.5 L304.1,450.1 L304.7,451.9 L305.3,453.5 L305.9,446.5 L306.5,453.0 L307.1,448.8 L307.7,451.8 L308.3,450.3 L308.9,452.6 L309.5,452.8 L310.1,449.0 L310.8,452.4 L311.4,452.3 L312.0,452.2 L312.6,448.9 L313.2,451.6 L313.8,452.6 L314.4,450.3 L315.0,450.7 L315.6,451.3 L316.2,451.7 L316.8,454.5 L317.4,450.9 L318.0,449.8 L318.6,449.3 L319.2,452.3 L319.8,452.7 L320.4,450.3 L321.0,453.0 L321.6,453.0 L322.2,453.3 L322.8,452.7 L323.4,452.9 L324.0,452.1 L324.6,453.5 L325.2,455.1 L325.8,455.7 L326.4,454.2 L327.1,456.4 L327.7,456.4 L328.3,452.6 L328.9,454.8 L329.5,454.7 L330.1,454.8 L330.7,455.2 L331.3,453.2 L331.9,455.0 L332.5,451.5 L333.1,454.4 L333.7,452.2 L334.3,452.3 L334.9,451.7 L335.5,457.3 L336.1,456.4 L336.7,454.4 L337.3,456.1 L337.9,451.9 L338.5,455.2 L339.1,455.4 L339.8,454.4 L340.4,453.8 L341.0,453.1 L341.6,452.9 L342.2,452.9 L342.8,453.4 L343.4,454.5 L344.0,456.2 L344.6,454.7 L345.2,455.3 L345.8,455.3 L346.4,454.2 L347.0,455.8 L347.6,455.2 L348.2,456.8 L348.8,456.9 L349.4,454.8 L350.0,454.2 L350.6,456.9 L351.2,454.1 L351.8,457.3 L352.4,456.8 L353.1,454.6 L353.7,455.2 L354.3,456.6 L354.9,454.8 L355.5,455.3 L356.1,457.3 L356.7,456.8 L357.3,456.9 L357.9,459.2 L358.5,456.9 L359.1,455.9 L359.7,456.7 L360.3,454.1 L360.9,458.5 L361.5,459.7 L362.2,457.5 L362.8,456.8 L363.4,457.7 L364.0,459.2 L364.6,455.7 L365.2,458.5 L365.9,458.0 L366.5,456.6 L367.1,456.5 L367.7,456.3 L368.3,455.7 L368.9,458.3 L369.5,455.7 L370.2,458.1 L370.8,458.1 L371.4,458.2 L372.0,458.2 L372.6,461.8 L373.2,459.1 L373.8,459.6 L374.5,453.7 L375.1,457.5 L375.7,458.5 L376.3,459.6 L376.9,459.1 L377.5,455.3 L378.2,461.1 L378.8,456.8 L379.4,458.6 L380.0,458.3 L380.6,459.2 L381.2,457.3 L381.8,458.2 L382.4,456.9 L383.0,461.1 L383.6,459.5 L384.2,457.1 L384.8,459.8 L385.5,461.9 L386.1,459.3 L386.7,457.7 L387.3,458.8 L387.9,456.9 L388.5,461.7 L389.1,461.1 L389.7,461.5 L390.3,458.9 L390.9,464.4 L391.5,462.4 L392.1,461.1 L392.7,461.9 L393.3,462.4 L393.9,462.1 L394.5,459.2 L395.2,460.7 L395.8,457.3 L396.4,462.4 L397.0,462.6 L397.6,462.6 L398.2,461.6 L398.8,461.8 L399.4,462.1 L400.0,460.0 L400.6,459.3 L401.2,457.8 L401.8,458.7 L402.4,459.5 L403.0,461.2 L403.7,457.8 L404.3,458.8 L404.9,458.4 L405.5,461.0 L406.1,461.4 L406.7,460.0 L407.3,461.6 L407.9,462.0 L408.5,459.2 L409.1,459.8 L409.7,461.6 L410.3,461.7 L411.0,461.8 L411.6,461.8 L412.2,461.9 L412.8,462.1 L413.4,461.9 L414.0,462.0 L414.6,460.9 L415.2,460.7 L415.8,460.7 L416.4,460.3 L417.0,459.0 L417.6,459.1 L418.2,458.3 L418.8,457.4 L419.4,459.0 L420.0,460.2 L420.6,461.1 L421.2,460.6 L421.8,459.5 L422.4,457.1 L423.0,461.0 L423.6,459.6 L424.2,463.3 L424.8,461.4 L425.4,459.7 L426.0,456.7 L426.6,462.1 L427.2,460.5 L427.8,460.5 L428.4,457.3 L429.0,460.1 L429.6,459.9 L430.2,460.0 L430.8,458.7 L431.4,458.7 L432.0,459.5 L440.0,454.0 L450.0,444.2 L456.0,434.2 L460.0,420.0 L463.0,410.0 L466.0,386.0 L468.0,358.0 L470.0,340.0 L471.8,333.0 L471.7,324.4 L471.6,315.1 L471.5,305.0 L471.4,294.0 L471.3,282.2 L471.3,269.4 L471.2,255.8 L471.1,242.0 L471.0,229.2 L470.9,219.6 L470.8,216.0 L471.1,216.4 L471.4,217.6 L471.7,219.1 L472.0,220.8 L472.3,222.4 L472.5,223.9 L472.8,225.3 L473.1,226.6 L473.4,227.9 L473.7,229.0 L474.0,230.0 L477.8,251.9 L481.8,283.8 L487.8,321.8 L494.8,353.7 L499.8,375.6 L502.8,385.6 L502.8,377.5 L502.9,368.8 L502.9,359.3 L502.9,349.0 L503.0,337.9 L503.0,325.9 L503.1,313.2 L503.1,300.2 L503.1,288.2 L503.2,279.2 L503.2,275.8 L503.8,276.9 L504.4,279.9 L505.0,283.8 L505.6,288.1 L506.2,292.2 L506.7,296.2 L507.3,299.8 L507.9,303.2 L508.5,306.3 L509.1,309.1 L509.7,311.8 L515.7,351.7 L519.7,377.6 L523.7,391.6 L527.0,398.0 L531.7,414.6 L531.9,406.0 L532.1,396.7 L532.2,386.6 L532.4,375.7 L532.6,363.9 L532.8,351.1 L533.0,337.6 L533.2,323.8 L533.3,311.0 L533.5,301.4 L533.7,297.8 L534.2,299.1 L534.8,302.5 L535.3,307.1 L535.9,312.1 L536.4,316.9 L537.0,321.5 L537.5,325.7 L538.1,329.7 L538.6,333.3 L539.2,336.6 L539.7,339.7 L545.7,379.6 L551.7,411.6 L555.0,416.0 L560.7,430.5 L561.0,422.0 L561.2,412.7 L561.5,402.8 L561.8,391.9 L562.0,380.2 L562.3,367.5 L562.5,354.1 L562.8,340.5 L563.1,327.8 L563.3,318.3 L563.6,314.7 L564.0,315.8 L564.4,318.6 L564.8,322.5 L565.2,326.6 L565.6,330.6 L566.0,334.4 L566.4,338.0 L566.8,341.2 L567.2,344.2 L567.6,347.0 L568.0,349.6 L574.0,389.6 L578.8,419.9 L583.8,439.9 L589.8,473.8 L595.7,477.8 L596.1,476.8 L596.5,475.7 L596.9,474.4 L597.3,473.1 L597.7,471.7 L598.1,470.2 L598.5,468.6 L598.9,466.9 L599.3,465.4 L599.7,464.2 L600.1,463.8 L600.6,464.3 L601.1,465.6 L601.6,467.4 L602.1,469.2 L602.6,471.1 L603.2,472.8 L603.7,474.5 L604.2,476.0 L604.7,477.3 L605.2,478.6 L605.7,479.8 L606.3,482.7 L606.9,480.8 L607.5,483.3 L608.2,483.1 L608.8,483.2 L609.4,481.7 L610.0,486.5 L610.6,484.3 L611.2,481.2 L611.9,484.4 L612.5,481.5 L613.1,480.9 L613.7,481.8 L614.3,480.8 L615.0,481.3 L615.6,483.3 L616.2,481.5 L616.8,484.8 L617.5,482.2 L618.1,482.2 L618.7,480.1 L619.3,479.4 L620.0,481.2 L620.6,479.1 L621.2,478.4 L621.8,481.8 L622.5,480.8 L623.1,485.1 L623.7,482.8 L629.3,477.4 L635.7,484.8 L636.3,482.8 L636.9,486.0 L637.5,485.8 L638.1,483.3 L638.7,485.1 L639.3,487.4 L639.9,484.7 L640.5,486.4 L641.1,484.5 L641.7,485.3 L642.3,483.2 L643.0,484.2 L643.6,484.0 L644.2,483.9 L644.8,482.7 L645.4,482.8 L646.0,481.5 L646.6,482.4 L647.2,483.1 L647.8,484.6 L648.4,487.4 L649.0,485.6 L649.6,484.8 L650.2,486.4 L650.8,485.4 L651.4,486.2 L652.0,485.4 L652.6,487.8 L653.2,485.3 L653.8,483.6 L654.4,487.2 L655.1,483.4 L655.7,485.7 L656.3,485.9 L656.9,484.0 L657.5,484.9 L658.1,485.4 L658.7,486.1 L659.3,486.8 L659.9,485.1 L660.5,486.1 L661.1,487.7 L661.7,487.8 L662.3,487.6 L662.9,487.5 L663.5,486.2 L664.1,485.2 L664.8,488.0 L665.4,485.8 L666.0,489.7 L666.6,484.3 L667.2,484.1 L667.8,486.8 L668.4,488.2 L669.0,485.7 L669.6,487.8 L670.2,489.1 L670.8,487.4 L671.4,487.1 L672.1,492.1 L672.7,487.9 L673.3,486.8 L673.9,486.0 L674.5,488.9 L675.1,487.4 L675.7,489.4 L676.3,488.2 L677.0,489.1 L677.6,490.0 L678.2,485.8 L678.8,487.5 L679.4,490.1 L680.0,490.0 L680.6,488.2 L681.3,488.6 L681.9,487.5 L682.5,484.6 L683.1,486.6 L683.7,483.8 L684.3,488.3 L684.9,485.9 L685.5,488.6 L686.2,488.2 L686.8,488.4 L687.4,486.5 L688.0,489.3 L688.6,491.0 L689.2,489.6 L689.8,489.6 L690.4,490.8 L691.0,490.5 L691.6,493.5 L692.3,494.2 L692.9,490.1 L693.5,492.0 L694.1,490.8 L694.7,491.5 L695.3,490.2 L695.9,491.7 L696.5,487.4 L697.1,489.8 L697.7,490.2 L698.3,490.7 L698.9,490.0 L699.5,489.7 L700.1,492.3 L700.8,487.9 L701.4,490.2 L702.0,491.3 L702.6,490.1 L703.2,491.4 L703.8,491.2 L704.4,490.7 L705.0,490.6 L705.6,489.0 L706.2,490.5 L706.8,490.3 L707.4,490.8 L708.0,486.7 L708.6,489.9 L709.3,489.3 L709.9,492.3 L710.5,491.0 L711.1,490.6 L711.7,489.1 L712.3,491.1 L712.9,492.9 L713.5,493.8 L714.1,489.6 L714.7,493.5 L715.3,490.7 L715.9,490.2 L716.5,491.6 L717.1,491.5 L717.8,492.7 L718.4,491.2 L719.0,491.1 L719.6,492.0 L720.2,492.7 L720.8,494.2 L721.4,493.0 L722.0,493.9 L722.6,494.7 L723.2,494.6 L723.8,494.8 L724.4,494.0 L725.0,490.9 L725.6,495.0 L726.3,493.9 L726.9,493.4 L727.5,492.8 L728.1,493.9 L728.7,492.5 L729.3,492.3 L729.9,493.5 L730.5,491.3 L731.1,497.3 L731.7,496.7 L732.3,496.5 L732.9,495.0 L733.5,498.3 L734.2,493.9 L734.8,491.9 L735.4,497.5 L736.0,493.4 L736.6,495.3 L737.2,495.0 L737.8,496.4 L738.4,492.9 L739.0,494.6 L739.6,494.9 L740.2,494.7 L740.8,496.3 L741.4,497.7 L742.0,496.2 L742.7,494.1 L743.3,495.0 L743.9,495.1 L744.5,494.2 L745.1,496.5 L745.7,495.8 L746.3,496.2 L746.9,494.6 L747.5,498.0 L748.1,498.7 L748.7,495.8 L749.3,497.4 L749.9,497.6 L750.5,496.8 L751.2,495.5 L751.8,494.2 L752.4,493.5 L753.0,497.4 L753.6,496.3 L754.2,497.5 L754.8,494.4 L755.4,495.4 L756.0,494.6 L756.6,497.1 L757.2,498.3 L757.8,495.8 L758.4,495.8 L759.0,495.5 L759.7,496.5 L760.3,496.2 L760.9,496.9 L761.5,497.5 L762.1,497.3 L762.7,496.7 L763.3,498.5 L763.9,498.2 L764.5,497.0 L765.1,499.7 L765.7,498.5 L766.3,499.5 L766.9,498.0 L767.5,499.8 L768.2,499.8 L768.8,497.9 L769.4,497.3 L770.0,497.5 L770.6,501.0 L771.2,497.7 L771.8,497.7 L772.4,499.3 L773.0,497.9 L773.6,496.4 L774.2,497.9 L774.8,497.0 L775.4,497.3 L776.0,499.3 L776.7,497.3 L777.3,496.9 L777.9,497.6 L778.5,492.5 L779.1,496.3 L779.7,499.7 L780.3,496.4 L780.9,499.0 L781.5,498.3 L782.1,499.6 L782.7,496.4 L783.3,500.7 L783.9,500.9 L784.5,501.0 L785.1,500.2 L785.8,501.6 L786.4,497.8 L787.0,499.4 L787.6,500.1 L788.2,501.7 L788.8,501.5 L789.4,501.6 L790.0,500.0 L790.6,502.3 L791.2,500.9 L791.8,501.5 L792.4,503.5 L793.0,503.0 L793.6,505.1 L794.2,504.4 L794.8,501.3 L795.5,502.5 L796.1,502.2 L796.7,502.1 L797.3,502.8 L797.9,504.8 L798.5,500.3 L799.1,503.3 L799.7,501.9" fill="none" stroke="#1a46a8" stroke-width="2.6" stroke-linejoin="round" stroke-linecap="butt"/>
<path d="M215.0,532.5 L215.6,531.1 L216.2,534.3 L216.8,531.8 L217.4,533.0 L218.0,533.3 L218.6,532.8 L219.3,529.8 L219.9,533.7 L220.5,534.0 L221.1,532.7 L221.7,532.5 L222.3,533.0 L222.9,535.8 L223.5,528.6 L224.1,534.8 L224.7,536.2 L225.3,532.5 L225.9,534.8 L226.5,533.9 L227.1,532.7 L227.8,531.4 L228.4,534.3 L229.0,535.3 L229.6,533.6 L230.2,534.6 L230.8,535.9 L231.4,533.9 L232.0,532.0 L232.6,532.0 L233.2,536.6 L233.8,531.3 L234.4,532.5 L235.0,533.0 L235.6,533.5 L236.3,532.5 L236.9,532.4 L237.5,534.6 L238.1,534.2 L238.7,535.6 L239.3,534.9 L239.9,534.5 L240.5,534.8 L241.1,535.1 L241.7,537.9 L242.3,534.9 L243.0,533.6 L243.6,536.0 L244.2,536.7 L244.8,533.0 L245.4,533.3 L246.0,534.6 L246.6,534.8 L247.2,536.6 L247.9,536.9 L248.5,536.4 L249.1,537.2 L249.7,536.4 L250.3,540.0 L250.9,536.1 L251.5,537.6 L252.1,535.7 L252.8,538.4 L253.4,538.3 L254.0,538.8 L254.6,538.6 L255.2,536.1 L255.8,537.5 L256.4,537.5 L257.0,537.7 L257.7,537.0 L258.3,535.9 L258.9,536.2 L259.5,536.7 L260.1,531.8 L260.7,533.9 L261.3,535.0 L261.9,536.7 L262.6,537.3 L263.2,536.9 L263.8,537.6 L264.4,537.4 L265.0,537.8 L265.6,538.3 L266.2,536.8 L266.8,536.7 L267.5,539.1 L268.1,536.6 L268.7,539.8 L269.3,538.8 L269.9,539.5 L270.5,537.3 L271.1,536.8 L271.7,537.1 L272.3,542.0 L273.0,541.8 L273.6,541.0 L274.2,541.1 L274.8,545.1 L275.4,539.2 L276.0,544.1 L276.6,536.8 L277.2,537.5 L277.8,539.8 L278.4,543.0 L279.1,544.4 L279.7,543.6 L280.3,541.4 L280.9,540.2 L281.5,545.2 L282.1,544.7 L282.7,541.0 L283.3,542.6 L283.9,545.6 L284.5,538.7 L285.2,541.2 L285.8,542.9 L286.4,537.1 L287.0,540.5 L287.6,541.1 L288.2,541.8 L288.8,540.8 L289.4,544.6 L290.0,542.4 L290.6,542.1 L291.3,539.3 L291.9,543.6 L292.5,543.7 L293.1,541.0 L293.7,543.6 L294.3,544.0 L294.9,545.8 L295.5,544.6 L296.1,542.4 L296.7,541.7 L297.4,543.5 L298.0,543.8 L298.6,546.2 L299.2,541.4 L299.8,543.5 L300.4,545.5 L301.0,546.7 L301.6,542.7 L302.2,544.6 L302.9,544.5 L303.5,544.1 L304.1,543.9 L304.7,542.3 L305.3,545.1 L305.9,542.4 L306.5,545.4 L307.1,544.4 L307.7,542.8 L308.3,544.7 L309.0,545.2 L309.6,547.2 L310.2,545.7 L310.8,548.4 L311.4,547.0 L312.0,548.0 L312.6,541.0 L313.2,541.1 L313.8,540.0 L314.4,546.5 L315.1,546.0 L315.7,547.0 L316.3,544.1 L316.9,546.8 L317.5,549.0 L318.1,549.7 L318.7,546.9 L319.3,552.2 L319.9,544.5 L320.5,549.2 L321.2,547.2 L321.8,546.2 L322.4,545.6 L323.0,546.9 L323.6,548.4 L324.2,547.9 L324.8,549.7 L325.4,553.6 L326.0,549.2 L326.6,547.0 L327.3,549.4 L327.9,546.9 L328.5,546.0 L329.1,548.9 L329.7,547.5 L330.3,547.1 L330.9,550.6 L331.5,547.0 L332.1,554.0 L332.7,548.4 L333.3,549.0 L333.9,548.6 L334.5,548.0 L335.1,548.2 L335.7,549.2 L336.4,545.9 L337.0,546.2 L337.6,548.5 L338.2,547.6 L338.8,549.4 L339.4,545.0 L340.0,546.4 L340.6,548.1 L341.2,548.6 L341.8,548.7 L342.4,549.1 L343.0,550.0 L343.6,547.4 L344.2,549.3 L344.8,551.9 L345.4,543.4 L346.0,550.7 L346.6,550.2 L347.2,546.9 L347.8,547.4 L348.4,547.0 L349.0,545.5 L349.7,549.6 L350.3,547.4 L350.9,546.7 L351.5,546.8 L352.1,548.3 L352.7,548.2 L353.3,546.9 L353.9,547.5 L354.5,547.0 L355.1,548.2 L355.7,548.5 L356.3,546.2 L356.9,545.8 L357.6,546.8 L358.2,548.0 L358.8,546.8 L359.4,546.8 L360.1,549.0 L360.7,547.5 L361.3,546.2 L361.9,546.7 L362.6,546.1 L363.2,548.1 L363.8,544.5 L364.4,547.0 L365.1,547.5 L365.7,546.5 L375.6,539.5 L380.0,538.3 L383.6,533.5 L388.0,524.3 L389.6,521.5 L394.0,506.3 L397.6,489.6 L399.0,482.3 L400.0,450.2 L402.0,428.2 L403.0,422.2 L402.7,413.6 L402.5,404.2 L402.2,394.1 L401.9,383.2 L401.6,371.3 L401.4,358.5 L401.1,344.9 L400.8,331.1 L400.5,318.3 L400.3,308.7 L400.0,305.0 L400.5,305.7 L400.9,307.4 L401.4,309.7 L401.8,312.1 L402.3,314.6 L402.7,316.9 L403.2,319.0 L403.6,321.0 L404.1,322.8 L404.5,324.5 L405.0,326.0 L410.0,360.1 L416.0,394.1 L420.0,416.2 L426.1,438.2 L431.1,464.2 L435.1,476.3 L435.0,468.3 L434.8,459.7 L434.7,450.4 L434.6,440.3 L434.5,429.3 L434.3,417.5 L434.2,404.9 L434.1,392.2 L434.0,380.3 L433.8,371.5 L433.7,368.1 L434.1,368.6 L434.5,369.9 L434.9,371.7 L435.3,373.5 L435.7,375.4 L436.1,377.1 L436.5,378.8 L436.9,380.3 L437.3,381.6 L437.7,382.9 L438.1,384.1 L444.1,422.2 L450.1,458.2 L455.1,482.3 L458.1,484.3 L462.1,498.3 L465.7,510.3 L465.6,501.7 L465.6,492.5 L465.5,482.5 L465.5,471.6 L465.4,459.8 L465.4,447.1 L465.3,433.7 L465.3,420.0 L465.2,407.2 L465.2,397.7 L465.1,394.1 L465.6,394.9 L466.0,397.1 L466.5,399.9 L466.9,403.0 L467.4,406.0 L467.8,408.9 L468.3,411.5 L468.7,413.9 L469.2,416.2 L469.6,418.3 L470.1,420.2 L476.1,466.3 L482.1,500.3 L487.1,506.3 L489.0,504.0 L494.2,540.3 L499.2,561.4 L499.5,557.0 L499.7,552.3 L500.0,547.2 L500.2,541.7 L500.5,535.7 L500.7,529.3 L501.0,522.4 L501.2,515.5 L501.5,509.0 L501.7,504.1 L502.0,502.3 L502.4,503.2 L502.8,505.5 L503.1,508.5 L503.5,511.8 L503.9,515.1 L504.3,518.1 L504.7,521.0 L505.1,523.6 L505.4,526.0 L505.8,528.2 L506.2,530.3 L510.0,552.0 L514.9,566.6 L521.9,573.5 L522.5,572.4 L523.1,574.7 L523.7,578.0 L524.3,579.7 L524.9,576.6 L525.5,573.2 L526.2,572.5 L526.8,571.8 L527.4,574.5 L528.0,570.1 L528.6,570.8 L529.2,575.3 L529.8,574.7 L530.4,575.5 L531.0,573.7 L531.6,576.3 L532.2,573.7 L532.8,576.0 L533.4,577.0 L534.0,573.5 L534.7,574.5 L535.3,573.3 L535.9,573.6 L536.5,574.4 L537.1,574.1 L537.7,571.8 L538.3,575.2 L538.9,573.1 L539.5,574.9 L540.1,574.3 L540.7,572.3 L541.3,576.5 L541.9,575.5 L542.5,575.8 L543.2,575.6 L543.8,575.9 L544.4,573.9 L545.0,575.5 L545.6,576.0 L546.2,574.5 L546.8,574.0 L547.4,574.3 L548.0,573.6 L548.6,575.8 L549.2,576.9 L549.8,577.3 L550.4,576.0 L551.0,577.6 L551.7,578.1 L552.3,577.0 L552.9,577.6 L553.5,578.2 L554.1,575.8 L554.7,578.2 L555.3,577.6 L555.9,579.3 L556.5,577.0 L557.1,579.6 L557.7,577.1 L558.3,578.5 L558.9,577.5 L559.5,579.3 L560.2,578.2 L560.8,577.1 L561.4,578.7 L562.0,577.8 L562.6,578.6 L563.2,577.6 L563.8,578.5 L564.4,580.9 L565.0,583.7 L565.6,577.8 L566.2,581.0 L566.8,581.8 L567.4,577.3 L568.0,579.1 L568.6,578.7 L569.2,579.3 L569.8,581.2 L570.4,580.0 L571.0,580.9 L571.6,581.2 L572.2,578.9 L572.8,582.6 L573.4,578.8 L574.0,580.3 L574.6,580.0 L575.2,580.9 L575.8,581.4 L576.4,576.9 L577.0,579.8 L577.6,578.6 L578.2,581.4 L578.8,578.5 L579.4,581.1 L580.0,577.3 L580.6,578.2 L581.2,580.6 L581.8,581.5 L582.4,582.5 L583.0,582.5 L583.6,581.0 L584.2,582.0 L584.8,581.0 L585.4,580.5 L586.0,582.5 L586.6,580.7 L587.2,581.4 L587.8,581.7 L588.4,579.8 L589.0,580.7 L589.6,578.6 L590.2,579.9 L590.8,578.8 L591.4,579.9 L592.1,581.0 L592.7,582.0 L593.3,583.5 L593.9,581.4 L594.5,582.6 L595.1,586.0 L595.7,582.3 L596.3,582.7 L596.9,588.3 L597.5,585.2 L598.1,582.5 L598.7,581.9 L599.3,584.1 L599.9,581.2 L600.5,583.1 L601.1,582.3 L601.7,583.1 L602.3,583.6 L602.9,581.2 L603.5,583.5 L604.1,583.4 L604.7,582.1 L605.3,582.2 L605.9,582.0 L606.5,586.4 L607.1,582.6 L607.7,584.3 L608.3,579.4 L608.9,581.9 L609.5,581.9 L610.1,583.3 L610.7,585.6 L611.3,581.3 L611.9,588.9 L612.5,584.5 L613.1,585.2 L613.7,584.1 L614.3,584.6 L614.9,585.3 L615.5,582.3 L616.1,585.4 L616.7,586.1 L617.3,586.2 L617.9,585.1 L618.5,583.3 L619.1,584.9 L619.7,586.5 L620.3,582.9 L620.9,584.2 L621.5,586.4 L622.1,586.1 L622.7,580.7 L623.3,583.2 L623.9,586.5 L624.5,584.8 L625.1,584.8 L625.7,586.2 L626.3,586.9 L626.9,589.8 L627.5,589.8 L628.1,588.9 L628.7,590.4 L629.3,592.3 L629.9,589.5 L630.5,588.6 L631.1,587.6 L631.7,590.7 L632.3,588.9 L632.9,587.9 L633.5,589.2 L634.1,587.8 L634.7,589.4 L635.3,588.4 L635.9,587.0 L636.5,586.3 L637.1,587.3 L637.7,588.1 L638.3,587.1 L638.9,588.3 L639.5,590.6 L640.1,586.5 L640.7,589.2 L641.3,590.4 L641.9,587.9 L642.5,589.8 L643.1,588.3 L643.7,590.5 L644.3,593.0 L644.9,591.0 L645.5,588.4 L646.1,589.1 L646.7,591.1 L647.3,589.4 L648.0,590.6 L648.6,590.5 L649.2,591.3 L649.8,590.0 L650.4,590.7 L651.0,591.6 L651.6,591.4 L652.2,588.3 L652.8,590.9 L653.4,591.2 L654.0,592.8 L654.6,592.4 L655.2,589.4 L655.8,591.4 L656.4,589.9 L657.0,592.4 L657.6,592.3 L658.2,591.3 L658.8,589.0 L659.4,592.2 L660.0,589.6 L660.6,591.7 L661.2,593.4 L661.8,597.3 L662.4,587.7 L663.0,590.5 L663.6,592.7 L664.2,590.2 L664.8,592.4 L665.4,592.0 L666.0,593.4 L666.6,592.8 L667.2,592.5 L667.8,595.9 L668.4,593.0 L669.0,591.4 L669.6,590.9 L670.2,587.7 L670.8,591.5 L671.4,593.0 L672.0,593.5 L672.6,592.9 L673.2,593.5 L673.8,590.8 L674.4,591.2 L675.0,593.5 L675.6,593.5 L676.2,586.7 L676.8,592.3 L677.4,594.6 L678.0,592.6 L678.6,592.0 L679.2,595.0 L679.8,594.1 L680.4,597.6 L681.0,594.7 L681.6,596.3 L682.2,597.2 L682.8,594.5 L683.4,593.8 L684.0,596.1 L684.6,593.9 L685.2,593.4 L685.8,594.4 L686.4,595.2 L687.0,595.3 L687.6,595.3 L688.2,595.6 L688.8,598.2 L689.4,589.5 L690.0,596.2 L690.6,599.5 L691.2,593.8 L691.8,593.6 L692.4,597.5 L693.0,595.8 L693.6,596.9 L694.2,596.0 L694.8,596.4 L695.4,594.8 L696.0,594.9 L696.6,595.9 L697.2,596.3 L697.8,596.4 L698.4,598.1 L699.0,594.1 L699.6,600.2 L700.2,595.5 L700.8,596.1 L701.4,596.9 L702.0,597.1 L702.6,597.1 L703.2,596.1 L703.8,594.2 L704.4,595.6 L705.0,594.3 L705.7,597.1 L706.3,597.6 L706.9,602.7 L707.5,595.5 L708.1,598.5 L708.7,596.5 L709.3,597.2 L709.9,595.4 L710.5,598.6 L711.1,598.5 L711.7,597.9 L712.3,597.6 L712.9,598.0 L713.5,595.8 L714.1,598.2 L714.7,598.1 L715.3,597.1 L715.9,598.6 L716.5,602.4 L717.1,600.1 L717.7,598.7 L718.3,597.7 L718.9,597.7 L719.5,596.5 L720.1,595.9 L720.7,598.7 L721.3,596.8 L721.9,598.0 L722.5,598.2 L723.1,597.2 L723.7,595.2 L724.3,597.9 L724.9,595.2 L725.5,598.2 L726.1,596.8 L726.7,598.4 L727.3,598.8 L727.9,599.1 L728.5,599.8 L729.1,602.6 L729.7,599.3 L730.3,598.5 L730.9,598.5 L731.5,598.4 L732.1,595.5 L732.7,600.0 L733.3,599.9 L733.9,598.1 L734.5,599.9 L735.1,600.1 L735.7,600.0" fill="none" stroke="#f07c12" stroke-width="2.6" stroke-linejoin="round" stroke-linecap="butt"/>
<path d="M433.7,1047.4 L434.3,1046.5 L434.9,1045.5 L435.6,1044.8 L436.2,1045.6 L436.8,1045.4 L437.4,1047.2 L438.0,1046.5 L438.7,1046.6 L439.3,1044.8 L439.9,1043.7 L440.5,1044.6 L441.2,1044.3 L441.8,1044.4 L442.4,1045.2 L449.0,1049.6 L449.6,1049.2 L450.3,1048.5 L450.9,1047.5 L451.5,1049.0 L452.1,1049.8 L452.8,1049.0 L453.4,1046.0 L454.0,1048.0 L454.7,1047.1 L455.3,1048.4 L455.9,1047.6 L456.5,1048.1 L457.2,1047.3 L457.8,1048.0 L458.4,1048.0 L459.1,1047.4 L459.7,1046.7 L460.3,1047.9 L460.9,1046.0 L461.6,1047.3 L462.2,1047.4 L465.5,1035.8 L468.8,1047.4 L469.4,1047.2 L470.0,1044.4 L470.6,1046.8 L471.2,1047.0 L471.8,1047.3 L472.4,1047.3 L473.0,1049.4 L473.7,1048.3 L474.3,1045.5 L474.9,1047.8 L475.5,1049.4 L476.1,1048.1 L476.7,1049.4 L477.3,1048.7 L477.9,1048.8 L478.5,1046.8 L479.1,1047.1 L479.7,1049.6 L480.3,1050.2 L480.9,1049.5 L481.5,1048.2 L482.2,1047.6 L482.8,1047.3 L483.4,1048.2 L484.0,1050.7 L484.6,1051.3 L485.2,1049.5 L485.8,1049.2 L486.4,1049.6 L486.7,1048.6 L487.0,1047.5 L487.2,1046.3 L487.5,1045.0 L487.8,1043.6 L488.1,1042.1 L488.4,1040.5 L488.7,1038.9 L488.9,1037.4 L489.2,1036.2 L489.5,1035.8 L489.8,1036.2 L490.1,1037.4 L490.5,1039.0 L490.8,1040.6 L491.1,1042.3 L491.4,1043.8 L491.7,1045.3 L492.0,1046.6 L492.4,1047.8 L492.7,1049.0 L493.0,1050.0 L493.6,1050.9 L494.2,1051.5 L494.9,1050.7 L495.5,1050.4 L496.1,1051.9 L496.7,1051.5 L497.3,1051.9 L497.9,1050.4 L498.6,1050.7 L499.2,1050.3 L499.8,1049.7 L500.4,1050.3 L501.0,1051.7 L501.6,1052.0 L502.3,1051.5 L502.9,1051.7 L503.5,1051.2 L504.1,1051.8 L504.7,1054.2 L505.4,1052.3 L506.0,1053.1 L506.6,1056.4 L507.2,1052.1 L507.8,1052.5 L508.4,1052.6 L509.1,1051.7 L509.7,1052.6 L510.3,1052.0 L510.6,1051.0 L510.9,1049.9 L511.2,1048.7 L511.5,1047.5 L511.8,1046.1 L512.1,1044.6 L512.4,1043.0 L512.7,1041.4 L513.0,1039.9 L513.3,1038.8 L513.6,1038.4 L513.9,1038.8 L514.2,1039.9 L514.5,1041.4 L514.8,1043.0 L515.1,1044.6 L515.5,1046.1 L515.8,1047.5 L516.1,1048.7 L516.4,1049.9 L516.7,1051.0 L517.0,1052.0 L517.6,1049.0 L518.2,1050.3 L518.9,1051.4 L519.5,1050.5 L520.1,1051.4 L520.7,1052.7 L521.3,1052.3 L522.0,1051.3 L522.6,1053.0 L523.2,1054.8 L523.8,1053.5 L524.4,1052.0 L525.1,1052.0 L525.7,1053.8 L526.3,1052.0 L526.9,1054.7 L527.5,1052.1 L528.2,1051.9 L528.8,1053.4 L529.4,1056.2 L530.0,1052.6 L530.6,1053.5 L531.3,1051.4 L531.9,1053.4 L532.5,1052.9 L533.0,1051.3 L533.5,1049.5 L534.1,1047.6 L534.6,1045.5 L535.1,1043.3 L535.6,1040.8 L536.1,1038.3 L536.6,1035.6 L537.2,1033.2 L537.7,1031.4 L538.2,1030.7 L538.7,1031.4 L539.1,1033.2 L539.6,1035.6 L540.0,1038.1 L540.5,1040.6 L540.9,1043.0 L541.4,1045.2 L541.8,1047.3 L542.3,1049.2 L542.7,1050.9 L543.2,1052.5 L543.8,1051.4 L544.4,1052.6 L545.0,1055.2 L545.6,1053.4 L546.3,1054.4 L546.9,1052.8 L547.5,1051.7 L548.1,1050.6 L548.7,1051.6 L549.3,1051.6 L549.9,1052.6 L550.5,1052.9 L551.2,1052.2 L551.8,1052.3 L552.4,1053.0 L553.0,1051.6 L553.6,1053.6 L554.2,1053.3 L554.8,1052.5 L555.4,1053.2 L556.1,1052.8 L556.7,1052.9 L557.3,1052.7 L557.9,1052.9 L558.5,1052.7 L558.9,1050.5 L559.2,1048.0 L559.6,1045.4 L560.0,1042.6 L560.3,1039.5 L560.7,1036.2 L561.0,1032.6 L561.4,1029.1 L561.8,1025.7 L562.1,1023.2 L562.5,1022.3 L562.9,1023.2 L563.4,1025.5 L563.8,1028.6 L564.2,1032.0 L564.7,1035.3 L565.1,1038.4 L565.6,1041.3 L566.0,1044.0 L566.4,1046.4 L566.9,1048.7 L567.3,1050.8 L571.0,1051.5 L571.6,1054.7 L572.2,1054.6 L572.9,1054.2 L573.5,1053.6 L574.1,1055.9 L574.7,1054.3 L575.3,1054.1 L575.9,1053.6 L576.5,1055.5 L577.2,1052.8 L577.8,1053.0 L578.4,1053.3 L579.0,1053.2 L579.6,1055.8 L580.2,1052.6 L580.9,1052.8 L581.5,1052.6 L582.1,1051.6 L582.5,1047.9 L582.8,1043.8 L583.2,1039.5 L583.5,1034.7 L583.9,1029.6 L584.2,1024.1 L584.6,1018.2 L584.9,1012.3 L585.3,1006.7 L585.6,1002.6 L586.0,1001.0 L586.6,1002.2 L587.1,1005.5 L587.7,1009.9 L588.3,1014.6 L588.9,1019.2 L589.4,1023.6 L590.0,1027.6 L590.6,1031.3 L591.2,1034.8 L591.7,1038.0 L592.3,1040.9 L592.9,1040.4 L593.5,1039.7 L594.1,1039.2 L594.7,1040.1 L595.4,1039.7 L596.0,1040.6 L596.6,1039.6 L597.2,1041.7 L597.8,1040.1 L603.0,1034.9 L607.5,1024.4 L610.1,991.8 L612.0,983.6 L616.8,1004.5 L620.5,991.0 L624.0,969.4 L626.1,956.6 L628.8,943.9 L630.9,935.9 L631.4,928.2 L632.0,919.8 L632.5,910.7 L633.0,900.9 L633.6,890.3 L634.1,878.8 L634.7,866.6 L635.2,854.3 L635.7,842.8 L636.3,834.2 L636.8,830.9 L637.3,832.8 L637.8,838.0 L638.3,844.8 L638.8,852.2 L639.3,859.4 L639.8,866.2 L640.3,872.6 L640.8,878.4 L641.3,883.8 L641.8,888.8 L642.3,893.4 L644.5,915.4 L647.8,937.3 L652.2,968.1 L656.6,985.6 L657.3,978.6 L657.9,971.0 L658.6,962.7 L659.2,953.8 L659.9,944.1 L660.5,933.7 L661.2,922.6 L661.8,911.4 L662.5,900.9 L663.1,893.1 L663.8,890.1 L664.3,892.0 L664.9,896.9 L665.4,903.5 L666.0,910.7 L666.5,917.7 L667.1,924.3 L667.6,930.4 L668.2,936.0 L668.7,941.2 L669.3,946.0 L669.8,950.5 L673.1,983.4 L677.5,1001.0 L680.7,1009.8 L681.6,1001.9 L682.5,993.5 L683.5,984.3 L684.4,974.3 L685.3,963.5 L686.2,951.9 L687.1,939.6 L688.0,927.0 L689.0,915.3 L689.9,906.6 L690.8,903.3 L691.3,905.0 L691.8,909.6 L692.2,915.8 L692.7,922.4 L693.2,928.9 L693.7,935.0 L694.2,940.6 L694.7,945.9 L695.1,950.7 L695.6,955.2 L696.1,959.3 L699.4,996.6 L703.8,1012.0 L707.1,1021.9 L708.1,1014.1 L709.0,1005.7 L710.0,996.7 L710.9,986.8 L711.9,976.1 L712.8,964.6 L713.8,952.4 L714.7,940.0 L715.7,928.4 L716.6,919.8 L717.6,916.5 L718.0,918.4 L718.5,923.3 L718.9,929.9 L719.4,937.0 L719.8,944.0 L720.3,950.6 L720.7,956.7 L721.2,962.4 L721.6,967.6 L722.1,972.4 L722.5,976.8 L726.9,1018.6 L732.3,1033.9 L733.3,1026.4 L734.4,1018.2 L735.4,1009.4 L736.5,999.9 L737.5,989.5 L738.6,978.4 L739.6,966.6 L740.7,954.5 L741.7,943.3 L742.8,935.0 L743.8,931.8 L744.3,934.5 L744.7,941.6 L745.2,951.1 L745.6,961.4 L746.1,971.4 L746.5,980.9 L747.0,989.7 L747.4,997.8 L747.9,1005.3 L748.3,1012.2 L748.8,1018.6 L753.2,1042.7 L758.7,1063.6 L759.6,1058.8 L760.6,1053.6 L761.5,1048.0 L762.4,1041.9 L763.4,1035.3 L764.3,1028.2 L765.3,1020.6 L766.2,1012.9 L767.1,1005.8 L768.1,1000.4 L769.0,998.4 L769.4,1000.1 L769.7,1004.4 L770.1,1010.2 L770.5,1016.5 L770.8,1022.6 L771.2,1028.4 L771.5,1033.8 L771.9,1038.8 L772.3,1043.4 L772.6,1047.6 L773.0,1051.5 L776.2,1065.8 L781.0,1066.5 L781.6,1067.6 L782.2,1066.5 L782.9,1064.1 L783.5,1066.4 L784.1,1066.6 L784.7,1067.1 L785.3,1064.7 L786.0,1067.7 L786.6,1067.8 L787.2,1068.2 L790.0,1060.0 L790.5,1056.6 L791.1,1053.0 L791.6,1049.1 L792.2,1044.8 L792.7,1040.2 L793.3,1035.2 L793.8,1029.9 L794.4,1024.5 L794.9,1019.6 L795.5,1015.8 L796.0,1014.4 L796.3,1015.8 L796.6,1019.6 L797.0,1024.5 L797.3,1029.9 L797.6,1035.2 L797.9,1040.2 L798.2,1044.8 L798.5,1049.1 L798.9,1053.0 L799.2,1056.6 L799.5,1060.0 L801.5,1069.3 L802.1,1069.6 L802.7,1070.4 L803.4,1070.3 L804.0,1069.8 L804.6,1072.2 L805.2,1070.4 L805.9,1070.9 L806.5,1069.7 L807.1,1073.1 L807.7,1072.5 L808.4,1071.3 L809.0,1070.7 L809.6,1070.9 L810.2,1070.0 L810.9,1068.6 L811.5,1069.2 L812.1,1071.5 L812.7,1070.7 L813.4,1072.7 L814.0,1071.2 L814.6,1070.4 L818.5,1060.0 L818.8,1058.0 L819.1,1055.9 L819.4,1053.6 L819.7,1051.0 L820.0,1048.3 L820.2,1045.4 L820.5,1042.3 L820.8,1039.1 L821.1,1036.1 L821.4,1033.9 L821.7,1033.1 L822.0,1034.1 L822.3,1036.7 L822.6,1040.2 L822.9,1044.0 L823.2,1047.7 L823.5,1051.1 L823.8,1054.4 L824.1,1057.4 L824.4,1060.1 L824.7,1062.6 L825.0,1065.0 L827.8,1072.6 L828.4,1072.4 L829.0,1072.2 L829.6,1072.8 L830.2,1073.4 L830.8,1073.4 L831.4,1073.5 L832.0,1073.5 L832.6,1073.7 L833.2,1072.6 L833.8,1072.3 L834.4,1072.3 L835.0,1073.7 L835.6,1073.4 L836.2,1073.1 L836.8,1073.7 L837.4,1072.9 L838.0,1071.5 L838.6,1073.5 L839.2,1073.7 L839.8,1073.9 L840.4,1073.7 L841.0,1072.6 L845.0,1065.0 L845.3,1063.7 L845.6,1062.3 L845.9,1060.8 L846.2,1059.1 L846.5,1057.3 L846.7,1055.4 L847.0,1053.3 L847.3,1051.2 L847.6,1049.3 L847.9,1047.9 L848.2,1047.3 L848.5,1047.9 L848.8,1049.6 L849.1,1051.9 L849.4,1054.3 L849.7,1056.7 L850.0,1059.0 L850.3,1061.1 L850.6,1063.0 L850.9,1064.8 L851.2,1066.5 L851.5,1068.0 L856.4,1074.8 L857.0,1075.2 L857.6,1076.5 L858.2,1074.8 L858.8,1076.3 L859.5,1074.5 L860.1,1075.0 L860.7,1074.6 L861.3,1076.7 L861.9,1075.2 L862.5,1072.6 L863.1,1073.5 L863.7,1074.5 L864.4,1074.2 L865.0,1073.6 L865.6,1072.7 L866.2,1073.2 L866.8,1074.5 L867.4,1074.4 L868.0,1072.3 L868.6,1074.2 L869.3,1073.0 L869.9,1074.6 L870.5,1073.7 L871.1,1074.7 L871.7,1073.7 L872.0,1072.5 L872.4,1071.2 L872.7,1069.7 L873.1,1068.2 L873.4,1066.5 L873.8,1064.7 L874.1,1062.8 L874.5,1060.9 L874.8,1059.1 L875.2,1057.7 L875.5,1057.2 L875.8,1057.7 L876.1,1058.9 L876.5,1060.5 L876.8,1062.2 L877.1,1064.0 L877.4,1065.6 L877.7,1067.1 L878.0,1068.5 L878.4,1069.7 L878.7,1070.9 L879.0,1072.0 L880.5,1075.9 L881.1,1076.4 L881.7,1075.4 L882.3,1075.6 L883.0,1074.3 L883.6,1075.5 L884.2,1074.0 L884.8,1077.4 L885.4,1077.7 L886.0,1076.0 L886.7,1077.4 L887.3,1076.8 L887.9,1075.9 L888.5,1073.7 L889.1,1074.8 L889.7,1075.2 L890.4,1075.0 L891.0,1076.3 L891.6,1077.8 L892.2,1076.6 L892.8,1075.4 L893.4,1076.6 L894.1,1076.8 L894.7,1076.0 L895.3,1076.0 L895.9,1075.9 L902.0,1065.3 L905.0,1075.0 L906.8,1077.0 L907.4,1077.3 L908.0,1077.6 L908.6,1078.4 L909.2,1077.9 L909.8,1077.6 L910.4,1077.2 L911.0,1073.3 L911.7,1076.5 L912.3,1076.8 L912.9,1076.7 L913.5,1076.9 L914.1,1077.1 L914.7,1075.0 L915.3,1076.5 L915.9,1076.9 L916.5,1076.1 L917.1,1076.6 L917.7,1078.6 L918.3,1077.1 L918.9,1078.0 L919.5,1076.9 L920.2,1078.6 L920.8,1076.9 L921.4,1080.4 L922.0,1077.8 L922.6,1078.6 L923.2,1078.5 L923.8,1078.9 L924.4,1078.1" fill="none" stroke="#e5121c" stroke-width="2.6" stroke-linejoin="round" stroke-linecap="butt"/>
<path d="M376.6,1124.3 L377.2,1124.2 L377.8,1123.8 L378.4,1123.4 L379.0,1125.9 L379.6,1122.0 L380.2,1123.9 L380.8,1125.1 L381.4,1123.2 L382.0,1124.4 L382.6,1124.9 L383.2,1124.5 L383.8,1124.9 L384.4,1126.0 L385.0,1125.4 L385.6,1127.3 L386.2,1126.2 L386.8,1126.8 L387.4,1126.3 L388.0,1125.1 L388.6,1125.8 L389.2,1125.8 L389.8,1125.4 L390.4,1124.0 L391.0,1127.9 L391.6,1125.4 L392.2,1123.6 L392.8,1124.4 L393.4,1124.3 L394.0,1126.3 L394.6,1125.1 L395.2,1122.5 L395.9,1124.9 L396.5,1125.7 L397.1,1123.3 L397.7,1125.9 L398.3,1124.9 L398.9,1124.9 L399.5,1124.6 L400.1,1125.8 L400.7,1126.4 L401.3,1125.5 L401.9,1125.4 L402.5,1126.3 L403.1,1125.4 L403.7,1123.4 L404.3,1126.3 L404.9,1126.4 L405.5,1125.9 L406.1,1125.2 L406.7,1125.5 L407.3,1126.6 L407.9,1129.1 L408.5,1129.7 L409.1,1124.2 L409.7,1127.9 L410.3,1127.3 L410.9,1126.4 L411.5,1125.0 L412.1,1126.0 L412.7,1126.9 L413.3,1125.6 L413.9,1126.5 L414.5,1125.6 L415.1,1127.5 L415.7,1124.8 L416.3,1126.6 L416.9,1124.9 L417.5,1125.5 L418.1,1125.2 L418.7,1125.7 L419.3,1126.5 L419.9,1126.1 L420.5,1127.2 L421.1,1128.1 L421.7,1127.9 L422.3,1126.4 L422.9,1127.7 L423.5,1128.4 L424.1,1127.7 L424.7,1128.4 L425.3,1127.0 L425.9,1127.3 L426.5,1128.1 L427.1,1126.3 L427.7,1126.9 L428.3,1126.7 L428.9,1126.6 L429.5,1127.0 L430.1,1127.8 L430.7,1126.7 L431.3,1126.7 L431.9,1124.9 L432.5,1125.9 L433.1,1126.6 L433.7,1125.8 L434.3,1128.2 L434.9,1127.2 L435.5,1125.8 L436.2,1129.7 L436.8,1127.6 L437.4,1127.2 L438.0,1127.6 L438.6,1128.6 L439.2,1128.7 L439.8,1128.2 L440.4,1127.1 L441.0,1129.1 L441.6,1128.6 L442.2,1127.8 L442.8,1128.7 L443.4,1129.8 L444.0,1126.3 L444.6,1129.3 L445.2,1129.0 L445.8,1129.5 L446.4,1130.4 L447.0,1129.6 L447.6,1128.8 L448.2,1130.0 L448.8,1129.0 L449.4,1128.6 L450.0,1129.2 L450.6,1130.1 L451.2,1130.6 L451.8,1129.3 L452.4,1129.6 L453.0,1128.6 L453.6,1130.3 L454.2,1129.7 L454.8,1131.2 L455.4,1131.0 L456.0,1127.8 L456.6,1129.2 L457.2,1131.6 L457.8,1129.8 L458.4,1130.6 L459.0,1130.9 L459.7,1129.4 L460.3,1128.3 L460.9,1127.8 L461.5,1132.1 L462.1,1129.5 L462.7,1129.4 L463.4,1131.9 L464.0,1128.5 L464.6,1130.6 L465.2,1129.7 L465.8,1126.7 L466.4,1128.7 L467.1,1129.1 L467.7,1131.4 L468.3,1128.8 L468.9,1129.1 L469.5,1129.0 L470.1,1129.1 L470.8,1128.8 L471.4,1130.4 L472.0,1130.7 L472.6,1128.1 L473.2,1128.2 L473.8,1126.8 L474.4,1127.6 L475.1,1128.0 L475.7,1128.0 L476.3,1127.2 L476.9,1129.4 L477.5,1129.0 L478.1,1128.0 L478.8,1128.1 L479.4,1128.8 L480.0,1129.0 L484.2,1126.5 L488.0,1130.0 L488.6,1128.5 L489.2,1128.8 L489.9,1129.5 L490.5,1130.4 L491.1,1130.1 L491.7,1130.4 L492.4,1131.4 L493.0,1130.6 L493.6,1130.2 L494.2,1131.9 L494.9,1130.4 L495.5,1132.4 L496.1,1134.1 L496.7,1131.6 L497.3,1132.6 L498.0,1131.9 L498.6,1132.4 L499.2,1133.1 L499.8,1132.4 L500.5,1131.3 L501.1,1132.8 L501.7,1132.0 L505.5,1131.0 L505.8,1130.0 L506.0,1129.0 L506.3,1127.8 L506.5,1126.6 L506.8,1125.2 L507.0,1123.8 L507.3,1122.2 L507.5,1120.7 L507.8,1119.2 L508.0,1118.1 L508.3,1117.7 L508.7,1118.2 L509.1,1119.4 L509.5,1121.1 L509.9,1122.9 L510.3,1124.7 L510.7,1126.4 L511.1,1128.0 L511.5,1129.4 L511.9,1130.7 L512.3,1132.0 L512.7,1133.1 L513.3,1136.8 L513.9,1133.0 L514.5,1134.6 L515.2,1133.4 L515.8,1132.1 L516.4,1131.7 L517.0,1136.9 L517.6,1134.1 L518.2,1133.2 L518.9,1132.0 L519.5,1133.4 L520.1,1132.4 L520.7,1133.7 L521.3,1131.4 L521.9,1132.7 L522.6,1132.9 L523.2,1132.3 L523.8,1133.1 L524.4,1133.3 L525.0,1133.9 L525.6,1133.3 L526.3,1132.9 L526.9,1133.5 L527.5,1132.9 L528.1,1132.0 L530.5,1129.0 L530.7,1126.5 L530.9,1123.7 L531.0,1120.8 L531.2,1117.5 L531.4,1114.1 L531.6,1110.3 L531.8,1106.3 L532.0,1102.3 L532.1,1098.5 L532.3,1095.7 L532.5,1094.6 L532.9,1095.4 L533.3,1097.6 L533.7,1100.5 L534.1,1103.6 L534.5,1106.6 L534.8,1109.5 L535.2,1112.2 L535.6,1114.7 L536.0,1117.0 L536.4,1119.1 L536.8,1121.0 L541.2,1123.2 L550.0,1112.2 L554.4,1103.4 L556.6,1068.3 L559.5,1080.0 L562.1,1084.8 L565.0,1065.0 L567.6,1046.3 L569.4,1039.7 L572.6,1022.1 L575.0,1003.0 L575.8,927.9 L577.5,912.0 L580.6,923.1 L584.6,972.6 L590.2,1007.7 L595.0,1033.3 L599.0,1060.0 L601.0,1065.4 L601.5,1058.1 L602.0,1050.2 L602.5,1041.6 L603.0,1032.4 L603.5,1022.3 L604.1,1011.5 L604.6,1000.0 L605.1,988.3 L605.6,977.4 L606.1,969.3 L606.6,966.2 L607.0,967.0 L607.4,969.1 L607.8,971.9 L608.2,974.9 L608.6,977.9 L608.9,980.7 L609.3,983.3 L609.7,985.7 L610.1,987.9 L610.5,989.9 L610.9,991.8 L614.9,1031.7 L618.1,1060.0 L621.0,1075.0 L626.4,1090.9 L627.2,1083.0 L627.9,1074.5 L628.7,1065.2 L629.5,1055.2 L630.3,1044.4 L631.0,1032.7 L631.8,1020.3 L632.6,1007.6 L633.4,995.9 L634.1,987.1 L634.9,983.8 L635.3,984.9 L635.6,987.7 L636.0,991.5 L636.4,995.6 L636.8,999.7 L637.1,1003.5 L637.5,1007.0 L637.9,1010.3 L638.3,1013.3 L638.6,1016.0 L639.0,1018.6 L643.4,1051.5 L647.8,1089.9 L653.4,1104.4 L654.2,1096.6 L655.1,1088.1 L655.9,1079.0 L656.8,1069.1 L657.6,1058.4 L658.5,1046.8 L659.3,1034.5 L660.2,1022.0 L661.0,1010.4 L661.9,1001.7 L662.7,998.4 L663.1,1000.1 L663.6,1004.4 L664.0,1010.2 L664.5,1016.5 L664.9,1022.6 L665.4,1028.4 L665.8,1033.8 L666.3,1038.8 L666.7,1043.4 L667.2,1047.6 L667.6,1051.5 L672.0,1089.9 L676.0,1108.0 L680.3,1116.3 L681.2,1108.7 L682.2,1100.5 L683.1,1091.6 L684.0,1081.9 L685.0,1071.5 L685.9,1060.2 L686.9,1048.2 L687.8,1036.1 L688.7,1024.8 L689.7,1016.3 L690.6,1013.1 L690.9,1014.3 L691.2,1017.4 L691.5,1021.6 L691.8,1026.2 L692.1,1030.6 L692.4,1034.8 L692.7,1038.7 L693.0,1042.3 L693.3,1045.6 L693.6,1048.7 L693.9,1051.5 L697.2,1089.9 L699.8,1099.9 L704.0,1125.0 L708.7,1146.3 L709.4,1142.6 L710.2,1138.6 L710.9,1134.3 L711.6,1129.6 L712.4,1124.6 L713.1,1119.1 L713.9,1113.3 L714.6,1107.4 L715.3,1102.0 L716.1,1097.9 L716.8,1096.3 L717.1,1097.2 L717.4,1099.5 L717.7,1102.7 L718.0,1106.1 L718.3,1109.4 L718.5,1112.5 L718.8,1115.4 L719.1,1118.1 L719.4,1120.6 L719.7,1122.9 L720.0,1125.0 L723.7,1146.3 L724.3,1146.3 L724.9,1148.0 L725.5,1145.4 L726.1,1146.9 L726.7,1147.0 L727.3,1148.2 L727.9,1147.1 L728.5,1148.0 L729.1,1149.5 L729.7,1146.4 L730.3,1150.1 L730.9,1151.0 L731.5,1150.5 L732.1,1150.5 L732.7,1150.7 L733.3,1148.9 L733.9,1149.4 L734.5,1150.0 L735.1,1149.8 L735.7,1150.8 L736.3,1148.3 L736.9,1145.6 L737.5,1142.8 L738.1,1139.6 L738.7,1136.2 L739.3,1132.5 L739.9,1128.6 L740.5,1124.7 L741.1,1121.0 L741.7,1118.2 L742.3,1117.2 L742.6,1117.9 L742.9,1119.8 L743.2,1122.3 L743.5,1125.0 L743.8,1127.6 L744.0,1130.1 L744.3,1132.4 L744.6,1134.5 L744.9,1136.5 L745.2,1138.3 L745.5,1140.0 L747.7,1150.8 L748.3,1150.9 L749.0,1151.3 L749.6,1151.6 L750.2,1151.3 L750.8,1151.5 L751.5,1152.0 L752.1,1151.8 L752.7,1155.2 L753.3,1152.5 L754.0,1152.9 L754.6,1153.9 L755.2,1153.4 L755.8,1153.9 L756.5,1153.7 L757.1,1155.0 L757.7,1154.0 L758.3,1153.2 L759.0,1154.2 L759.6,1153.8 L760.2,1153.9 L760.9,1152.8 L761.5,1152.1 L762.2,1152.2 L762.8,1149.4 L763.4,1152.0 L764.1,1150.6 L764.7,1151.6 L765.4,1151.0 L766.0,1151.0 L766.2,1150.1 L766.5,1149.1 L766.7,1148.1 L766.9,1146.9 L767.2,1145.7 L767.4,1144.4 L767.7,1143.0 L767.9,1141.5 L768.1,1140.2 L768.4,1139.2 L768.6,1138.8 L768.9,1139.2 L769.1,1140.3 L769.4,1141.7 L769.7,1143.3 L769.9,1144.8 L770.2,1146.3 L770.4,1147.6 L770.7,1148.8 L771.0,1150.0 L771.2,1151.0 L771.5,1152.0 L774.6,1153.8 L775.2,1154.2 L775.8,1155.4 L776.4,1154.6 L777.0,1155.9 L777.6,1154.8 L778.2,1156.4 L778.8,1154.5 L779.4,1155.8 L780.0,1156.5 L780.6,1156.0 L781.2,1154.4 L781.8,1155.0 L782.4,1155.6 L783.0,1157.9 L783.6,1153.6 L784.2,1154.4 L784.8,1157.0 L785.4,1154.4 L786.0,1155.4 L786.6,1155.7 L787.2,1154.5 L787.8,1154.3 L788.4,1156.5 L789.0,1154.8 L789.6,1157.2 L790.2,1156.3 L790.8,1156.3 L791.4,1157.4 L792.0,1155.2 L792.6,1155.0 L793.2,1157.1 L793.8,1157.2 L794.4,1156.3 L795.0,1155.0 L795.6,1154.3 L796.2,1155.2 L796.8,1155.9 L797.4,1154.4 L798.0,1156.5 L798.6,1154.9 L799.2,1155.8 L799.8,1156.6 L800.4,1156.1 L801.0,1157.5 L801.6,1156.9 L802.2,1156.0 L802.8,1156.3 L803.4,1157.5 L804.0,1156.0 L804.6,1156.8 L805.2,1157.0 L805.8,1156.5 L806.4,1156.3 L807.0,1156.8 L807.7,1157.8 L808.3,1156.8 L808.9,1156.7 L809.5,1157.9 L810.1,1157.9 L810.7,1157.6 L811.3,1157.0 L811.9,1156.7 L812.5,1157.4 L813.1,1158.1 L813.8,1158.0 L814.4,1158.3 L815.0,1157.9 L815.6,1157.7 L816.2,1158.8 L816.8,1158.4 L817.4,1157.8 L818.0,1161.9 L818.6,1157.9 L819.2,1159.4 L819.9,1159.0 L820.5,1158.3 L821.1,1159.5 L821.7,1159.1 L822.3,1158.1 L822.9,1156.7 L823.5,1158.3 L824.1,1160.3 L824.7,1159.0 L825.3,1157.6 L826.0,1158.9 L826.6,1160.0 L827.2,1159.7 L827.8,1159.7 L828.4,1158.3 L829.0,1161.2 L829.6,1160.0 L830.2,1159.1 L830.8,1159.5 L831.4,1158.7 L832.1,1159.1 L832.7,1158.7 L833.3,1158.5 L833.9,1159.0 L834.5,1159.8 L835.1,1162.8 L835.7,1162.9 L836.3,1160.8 L836.9,1160.6 L837.5,1160.1 L838.1,1159.6 L838.8,1160.5 L839.4,1162.1 L840.0,1158.2 L840.6,1159.0 L841.2,1160.6 L841.8,1161.3 L842.4,1160.7 L843.0,1159.8 L843.6,1160.8 L844.2,1161.7 L844.8,1158.8 L845.4,1160.7 L846.0,1160.8 L846.7,1160.8 L847.3,1159.7 L847.9,1161.9 L848.5,1159.9 L849.1,1160.4 L849.7,1161.1 L850.3,1161.3 L850.9,1161.8 L851.5,1159.6 L852.1,1159.6 L852.7,1160.6 L853.3,1160.1 L854.0,1159.6 L854.6,1157.8 L855.2,1160.0 L855.8,1160.0 L856.4,1160.0 L857.0,1159.0 L857.6,1161.7 L858.2,1159.4 L858.8,1161.3 L859.4,1160.5 L860.0,1162.5 L860.6,1160.6 L861.2,1160.3 L861.9,1159.6 L862.5,1160.6 L863.1,1161.8 L863.7,1161.5 L864.3,1161.9 L864.9,1163.0 L865.5,1162.5 L866.1,1161.3 L866.7,1162.2 L867.3,1162.0 L867.9,1161.6 L868.5,1160.8 L869.1,1162.1 L869.8,1160.1 L870.4,1159.6 L871.0,1160.4 L871.6,1160.8 L872.2,1162.9 L872.8,1160.3 L873.4,1161.3" fill="none" stroke="#14803a" stroke-width="2.6" stroke-linejoin="round" stroke-linecap="butt"/>
<path d="M318.3,1203.6 L318.9,1204.1 L319.5,1204.8 L320.1,1203.0 L320.7,1204.7 L321.3,1204.3 L321.9,1203.3 L322.5,1203.5 L323.1,1203.3 L323.7,1203.1 L324.3,1207.6 L324.9,1203.1 L325.5,1204.7 L326.1,1202.2 L326.7,1206.0 L327.3,1205.2 L327.9,1204.4 L328.5,1203.6 L329.1,1205.2 L329.7,1203.9 L330.3,1203.3 L330.9,1205.5 L331.5,1206.1 L332.1,1204.9 L332.7,1205.2 L333.3,1204.9 L333.9,1204.2 L334.5,1202.8 L335.1,1205.0 L335.7,1204.4 L336.3,1205.0 L336.9,1205.2 L337.5,1206.2 L338.1,1205.4 L338.7,1205.1 L339.3,1203.2 L339.9,1204.6 L340.5,1206.9 L341.1,1206.9 L341.7,1206.5 L342.3,1203.0 L342.9,1205.8 L343.5,1205.5 L344.1,1205.7 L344.8,1205.2 L345.4,1204.1 L346.0,1204.4 L346.6,1203.9 L347.2,1203.5 L347.8,1204.3 L348.4,1204.8 L349.0,1205.3 L349.6,1206.3 L350.2,1207.6 L350.8,1207.5 L351.4,1205.2 L352.0,1206.6 L352.6,1204.0 L353.2,1207.3 L353.8,1207.0 L354.4,1207.5 L355.0,1206.1 L355.6,1206.4 L356.2,1206.3 L356.8,1204.2 L357.4,1203.5 L358.0,1208.2 L358.6,1208.6 L359.2,1204.3 L359.8,1206.8 L360.4,1208.7 L361.0,1206.5 L361.6,1208.8 L362.2,1208.0 L362.8,1207.9 L363.4,1207.6 L364.0,1208.2 L364.6,1209.7 L365.2,1208.4 L365.8,1208.8 L366.4,1211.1 L367.0,1207.3 L367.6,1207.1 L368.2,1208.0 L368.8,1210.5 L369.4,1208.9 L370.0,1207.7 L370.6,1212.5 L371.2,1207.5 L371.8,1208.7 L372.4,1208.1 L373.1,1207.8 L373.7,1209.2 L374.3,1209.5 L374.9,1207.9 L375.5,1209.0 L376.1,1206.9 L376.7,1207.7 L377.3,1207.2 L377.9,1204.7 L378.6,1207.2 L379.2,1207.1 L379.8,1212.3 L380.4,1208.2 L381.0,1208.1 L381.6,1206.7 L382.2,1208.7 L382.8,1208.0 L383.4,1210.4 L384.1,1209.8 L384.7,1209.9 L385.3,1209.7 L385.9,1209.7 L386.5,1211.8 L387.1,1210.5 L387.7,1210.9 L388.3,1209.9 L388.9,1210.7 L389.6,1210.1 L390.2,1208.3 L390.8,1211.0 L391.4,1208.8 L392.0,1209.9 L392.6,1209.5 L393.2,1210.2 L393.8,1209.5 L394.4,1209.4 L395.0,1209.2 L395.6,1209.5 L396.3,1208.9 L396.9,1209.7 L397.5,1211.4 L398.1,1208.6 L398.7,1210.3 L399.3,1213.5 L399.9,1211.7 L400.5,1211.4 L401.1,1210.8 L401.7,1210.9 L402.3,1212.7 L402.9,1212.8 L403.6,1212.9 L404.2,1213.0 L404.8,1212.0 L405.4,1212.7 L406.0,1211.1 L406.6,1212.1 L407.2,1210.3 L407.8,1212.1 L408.4,1210.5 L409.0,1210.3 L409.6,1212.5 L410.2,1213.0 L410.9,1212.9 L411.5,1210.5 L412.1,1210.2 L412.7,1211.8 L413.3,1212.2 L413.9,1212.1 L414.5,1212.7 L415.1,1212.2 L415.7,1211.3 L416.3,1213.4 L417.0,1210.9 L417.6,1213.2 L418.2,1215.1 L418.8,1211.6 L419.4,1210.5 L420.0,1213.1 L420.6,1215.4 L421.2,1213.9 L421.8,1211.0 L422.5,1211.9 L423.1,1212.5 L423.7,1212.1 L424.3,1213.6 L424.9,1213.2 L425.5,1211.9 L426.1,1216.1 L426.7,1212.3 L427.3,1213.2 L428.0,1213.8 L428.6,1213.3 L429.2,1211.7 L429.8,1214.4 L430.4,1214.2 L431.0,1211.5 L431.6,1211.0 L432.2,1213.7 L432.8,1214.6 L433.5,1212.8 L434.1,1212.6 L434.7,1213.2 L435.3,1213.5 L435.9,1213.2 L436.5,1213.1 L437.1,1215.1 L437.7,1213.8 L438.3,1213.4 L438.9,1214.3 L439.5,1213.3 L440.1,1213.3 L440.7,1211.8 L441.3,1214.4 L441.9,1215.2 L442.5,1213.9 L443.1,1213.7 L443.7,1212.3 L444.3,1211.1 L444.9,1213.3 L445.5,1212.1 L446.1,1214.2 L446.7,1213.4 L447.3,1214.1 L447.9,1214.3 L451.2,1202.2 L455.6,1213.2 L456.2,1214.2 L456.8,1215.0 L457.4,1210.1 L458.0,1213.9 L458.6,1209.9 L459.2,1212.8 L459.8,1213.2 L460.5,1213.2 L461.1,1213.9 L461.7,1213.7 L462.3,1215.1 L462.9,1214.0 L463.5,1214.8 L464.1,1215.4 L464.7,1214.9 L465.3,1214.1 L465.9,1216.0 L466.5,1213.8 L467.1,1214.9 L467.7,1215.5 L468.3,1215.8 L469.0,1216.4 L469.6,1216.8 L470.2,1215.2 L470.8,1214.4 L471.4,1216.4 L472.0,1214.1 L472.6,1214.5 L473.2,1214.3 L473.4,1212.0 L473.6,1209.4 L473.8,1206.7 L474.0,1203.7 L474.2,1200.5 L474.4,1197.0 L474.6,1193.3 L474.8,1189.6 L475.0,1186.1 L475.2,1183.5 L475.4,1182.5 L476.0,1183.3 L476.6,1185.2 L477.2,1187.9 L477.8,1190.7 L478.4,1193.5 L479.0,1196.1 L479.6,1198.6 L480.2,1200.8 L480.8,1202.9 L481.4,1204.8 L482.0,1206.6 L488.6,1200.0 L495.1,1191.2 L497.3,1180.3 L497.5,1178.6 L497.8,1176.8 L498.0,1174.8 L498.3,1172.6 L498.5,1170.3 L498.8,1167.7 L499.0,1165.1 L499.3,1162.3 L499.5,1159.8 L499.8,1157.9 L500.0,1157.2 L500.4,1157.6 L500.7,1158.6 L501.1,1159.9 L501.4,1161.3 L501.8,1162.7 L502.1,1164.0 L502.5,1165.3 L502.8,1166.4 L503.2,1167.4 L503.5,1168.4 L503.9,1169.3 L507.2,1160.5 L510.5,1134.2 L512.7,1112.2 L514.9,1103.4 L515.0,1095.6 L515.2,1087.1 L515.3,1078.0 L515.4,1068.1 L515.6,1057.4 L515.7,1045.8 L515.9,1033.5 L516.0,1021.0 L516.1,1009.4 L516.3,1000.7 L516.4,997.4 L516.9,998.0 L517.3,999.7 L517.8,1001.8 L518.3,1004.2 L518.7,1006.5 L519.2,1008.7 L519.6,1010.7 L520.1,1012.5 L520.6,1014.2 L521.0,1015.8 L521.5,1017.3 L523.7,1044.1 L528.1,1074.9 L534.7,1107.8 L540.1,1136.4 L544.5,1149.5 L544.8,1142.5 L545.1,1134.9 L545.4,1126.6 L545.7,1117.7 L546.0,1108.0 L546.3,1097.6 L546.6,1086.5 L546.9,1075.3 L547.2,1064.8 L547.5,1057.0 L547.8,1054.0 L548.4,1055.5 L549.0,1059.3 L549.6,1064.5 L550.2,1070.1 L550.8,1075.5 L551.4,1080.7 L552.0,1085.5 L552.6,1089.9 L553.2,1094.0 L553.8,1097.7 L554.4,1101.2 L561.0,1136.4 L566.5,1160.5 L570.9,1177.0 L571.4,1169.3 L571.8,1161.0 L572.3,1152.0 L572.7,1142.3 L573.2,1131.7 L573.6,1120.3 L574.1,1108.2 L574.5,1095.9 L575.0,1084.5 L575.4,1075.9 L575.9,1072.7 L576.3,1073.8 L576.8,1076.7 L577.2,1080.5 L577.7,1084.7 L578.1,1088.7 L578.6,1092.6 L579.0,1096.1 L579.5,1099.4 L579.9,1102.4 L580.4,1105.2 L580.8,1107.8 L586.2,1151.7 L589.0,1168.7 L593.5,1177.7 L598.0,1191.2 L598.5,1183.5 L599.1,1175.1 L599.6,1166.1 L600.2,1156.3 L600.7,1145.7 L601.3,1134.2 L601.8,1122.1 L602.4,1109.7 L602.9,1098.3 L603.5,1089.7 L604.0,1086.4 L604.5,1088.2 L605.1,1093.0 L605.6,1099.4 L606.2,1106.3 L606.7,1113.0 L607.3,1119.4 L607.8,1125.3 L608.4,1130.8 L608.9,1135.8 L609.5,1140.5 L610.0,1144.8 L617.4,1186.7 L626.4,1209.2 L627.0,1202.0 L627.7,1194.3 L628.3,1185.9 L628.9,1176.8 L629.5,1166.9 L630.2,1156.3 L630.8,1145.0 L631.4,1133.6 L632.0,1122.9 L632.7,1114.9 L633.3,1111.9 L633.9,1113.4 L634.5,1117.3 L635.1,1122.6 L635.7,1128.2 L636.3,1133.8 L636.9,1139.0 L637.5,1143.8 L638.1,1148.3 L638.7,1152.5 L639.3,1156.3 L639.9,1159.8 L645.9,1207.7 L653.4,1231.6 L654.1,1228.9 L654.9,1226.0 L655.6,1222.9 L656.3,1219.4 L657.0,1215.7 L657.8,1211.8 L658.5,1207.5 L659.2,1203.2 L659.9,1199.2 L660.7,1196.2 L661.4,1195.1 L661.9,1196.3 L662.4,1199.4 L662.9,1203.6 L663.4,1208.0 L663.9,1212.4 L664.3,1216.6 L664.8,1220.4 L665.3,1224.0 L665.8,1227.3 L666.3,1230.3 L666.8,1233.1 L667.4,1233.6 L668.0,1233.9 L668.6,1237.3 L669.2,1232.1 L669.8,1235.1 L670.4,1232.9 L671.0,1235.7 L671.6,1235.1 L672.2,1233.4 L672.8,1234.9 L673.4,1236.5 L674.0,1236.9 L674.6,1236.0 L675.2,1235.2 L675.8,1238.5 L676.4,1236.8 L677.0,1237.5 L677.6,1237.6 L678.2,1237.5 L678.8,1237.3 L679.4,1239.9 L680.0,1237.9 L680.6,1238.9 L681.2,1239.7 L681.8,1237.6 L682.5,1236.1 L683.2,1234.5 L683.8,1232.7 L684.5,1230.8 L685.2,1228.7 L685.9,1226.5 L686.6,1224.1 L687.3,1221.7 L687.9,1219.5 L688.6,1217.8 L689.3,1217.2 L689.7,1217.8 L690.1,1219.3 L690.5,1221.4 L690.9,1223.6 L691.3,1225.8 L691.8,1227.9 L692.2,1229.8 L692.6,1231.6 L693.0,1233.2 L693.4,1234.7 L693.8,1236.1 L694.4,1235.2 L695.0,1236.6 L695.6,1233.6 L696.3,1235.6 L696.9,1236.6 L697.5,1236.1 L698.1,1235.8 L698.7,1236.5 L699.3,1237.1 L699.9,1235.0 L700.6,1234.0 L701.2,1237.7 L701.8,1237.2 L702.4,1236.8 L703.0,1234.8 L703.6,1238.1 L704.2,1236.7 L704.9,1236.5 L705.5,1236.0 L706.1,1236.8 L706.7,1236.1 L707.3,1237.2 L707.9,1237.1 L708.6,1237.4 L709.2,1236.4 L709.8,1238.3 L710.4,1235.7 L711.0,1236.0 L711.6,1238.0 L712.2,1236.6 L712.9,1238.3 L713.5,1237.2 L714.1,1236.6 L714.7,1237.6 L716.8,1234.0 L717.4,1234.7 L718.0,1233.6 L718.6,1234.0 L719.2,1234.0 L719.8,1237.7 L720.4,1235.6 L721.0,1235.4 L721.7,1235.3 L722.3,1233.9 L722.9,1234.7 L723.5,1236.0 L724.1,1234.6 L724.7,1234.3 L725.3,1235.3 L725.9,1234.7 L726.5,1235.4 L727.1,1236.8 L727.7,1236.4 L728.3,1237.4 L728.9,1233.8 L729.5,1237.3 L730.1,1238.1 L730.8,1237.2 L731.4,1240.0 L732.0,1238.9 L732.6,1239.0 L733.2,1238.7 L733.8,1237.6 L734.4,1235.1 L735.0,1238.4 L735.6,1238.4 L736.2,1241.0 L736.8,1239.3 L737.4,1238.3 L738.0,1239.7 L738.6,1239.7 L739.2,1239.7 L739.8,1240.5 L740.5,1238.9 L741.1,1239.8 L741.7,1239.3 L742.3,1239.2 L742.9,1238.4 L743.5,1240.6 L744.1,1238.7 L744.7,1240.6 L745.3,1242.7 L745.9,1242.6 L746.5,1241.7 L747.1,1241.3 L747.8,1239.8 L748.4,1241.5 L749.0,1240.0 L749.6,1239.1 L750.2,1241.9 L750.8,1241.7 L751.4,1240.5 L752.0,1242.2 L752.6,1243.2 L753.2,1241.7 L753.9,1238.2 L754.5,1241.7 L755.1,1243.9 L755.7,1243.4 L756.3,1242.0 L756.9,1244.4 L757.5,1240.9 L758.1,1243.5 L758.7,1242.0 L759.3,1243.4 L760.0,1244.4 L760.6,1243.6 L761.2,1242.2 L761.8,1242.2 L762.4,1244.1 L763.0,1243.3 L763.6,1242.6 L764.2,1240.9 L764.8,1243.7 L765.4,1242.8 L766.1,1245.7 L766.7,1243.1 L767.3,1244.4 L767.9,1243.8 L768.5,1244.5 L769.1,1244.5 L769.7,1244.0 L770.3,1243.1 L770.9,1243.0 L771.5,1244.6 L772.2,1243.0 L772.8,1242.2 L773.4,1242.5 L774.0,1245.2 L774.6,1245.1 L775.2,1241.3 L775.8,1245.2 L776.4,1245.9 L777.0,1245.1 L777.6,1247.1 L778.2,1247.1 L778.8,1245.5 L779.4,1245.3 L780.0,1244.1 L780.6,1245.2 L781.2,1242.3 L781.8,1246.5 L782.4,1244.8 L783.0,1245.5 L783.6,1247.8 L784.2,1245.1 L784.8,1246.5 L785.4,1247.0 L786.0,1245.3 L786.7,1244.5 L787.3,1246.1 L787.9,1244.5 L788.5,1249.2 L789.1,1247.1 L789.7,1246.6 L790.3,1245.8 L790.9,1245.5 L791.5,1246.1 L792.1,1246.7 L792.7,1247.5 L793.3,1246.9 L793.9,1246.7 L794.5,1245.7 L795.1,1246.3 L795.7,1248.6 L796.3,1246.0 L796.9,1245.3 L797.5,1245.3 L798.1,1244.9 L798.7,1245.2 L799.3,1245.5 L799.9,1246.7 L800.5,1244.8 L801.1,1246.9 L801.7,1245.3 L802.3,1245.8 L802.9,1246.5 L803.5,1246.6 L804.1,1247.2 L804.7,1246.6 L805.3,1246.3 L805.9,1247.0 L806.5,1247.8 L807.1,1247.6 L807.7,1248.7 L808.3,1247.3 L808.9,1246.9 L809.6,1246.5 L810.2,1248.6 L810.8,1249.2 L811.4,1247.1 L812.0,1246.9 L812.6,1246.3 L813.2,1248.4 L813.8,1246.9 L814.4,1247.3 L815.0,1247.1 L815.6,1245.3 L816.2,1245.0 L816.8,1247.9 L817.4,1247.4 L818.0,1246.9 L818.6,1246.0 L819.2,1245.7 L819.8,1246.9 L820.4,1246.3 L821.0,1248.1" fill="none" stroke="#1a46a8" stroke-width="2.6" stroke-linejoin="round" stroke-linecap="butt"/>
<path d="M258.4,1288.0 L259.0,1285.3 L259.6,1288.3 L260.2,1285.8 L260.8,1288.1 L261.4,1287.8 L262.0,1286.4 L262.7,1288.1 L263.3,1287.0 L263.9,1286.2 L264.5,1286.3 L265.1,1289.7 L265.7,1289.0 L266.3,1287.4 L266.9,1287.3 L267.5,1288.4 L268.1,1289.5 L268.7,1288.0 L269.3,1288.3 L269.9,1286.2 L270.5,1288.2 L271.2,1287.3 L271.8,1289.8 L272.4,1288.3 L273.0,1289.4 L273.6,1288.9 L274.2,1288.4 L274.8,1289.0 L275.4,1291.7 L276.0,1288.7 L276.6,1290.3 L277.2,1291.2 L277.8,1292.1 L278.4,1290.3 L279.0,1292.3 L279.7,1289.1 L280.3,1293.3 L280.9,1294.2 L281.5,1290.3 L282.1,1294.6 L282.7,1291.5 L283.3,1291.4 L283.9,1291.0 L284.5,1292.6 L285.1,1292.2 L285.7,1293.0 L286.3,1293.7 L286.9,1293.1 L287.6,1288.7 L288.2,1291.0 L288.8,1288.5 L289.4,1294.0 L290.0,1293.3 L290.6,1295.2 L291.2,1291.8 L291.8,1292.8 L292.4,1294.0 L293.0,1293.9 L293.6,1292.9 L294.2,1293.9 L294.8,1292.8 L295.4,1292.5 L296.1,1294.8 L296.7,1291.3 L297.3,1292.0 L297.9,1293.8 L298.5,1294.7 L299.1,1295.4 L299.7,1294.0 L300.3,1294.0 L300.9,1294.4 L301.5,1292.6 L302.1,1296.5 L302.7,1297.0 L303.3,1293.7 L303.9,1296.2 L304.6,1292.2 L305.2,1292.4 L305.8,1292.7 L306.4,1291.6 L307.0,1293.0 L307.6,1295.8 L308.2,1294.4 L308.8,1295.7 L309.4,1294.5 L310.0,1295.7 L310.6,1294.6 L311.2,1295.7 L311.8,1292.7 L312.4,1295.8 L313.0,1295.2 L313.7,1294.6 L314.3,1296.1 L314.9,1295.6 L315.5,1294.8 L316.1,1298.2 L316.7,1293.8 L317.3,1292.3 L317.9,1294.3 L318.5,1297.9 L319.1,1296.2 L319.7,1301.0 L320.3,1296.2 L320.9,1296.6 L321.5,1298.8 L322.1,1294.4 L322.8,1297.6 L323.4,1297.2 L324.0,1297.1 L324.6,1296.6 L325.2,1297.7 L325.8,1299.5 L326.4,1295.9 L327.0,1299.2 L327.6,1298.9 L328.2,1298.8 L328.8,1298.9 L329.4,1299.5 L330.0,1295.8 L330.6,1300.4 L331.3,1295.4 L331.9,1298.2 L332.5,1298.5 L333.1,1296.9 L333.7,1298.1 L334.3,1292.9 L334.9,1298.2 L335.5,1297.4 L336.1,1298.0 L336.7,1296.2 L337.3,1297.4 L337.9,1295.9 L338.5,1300.2 L339.1,1298.1 L339.7,1301.4 L340.4,1299.3 L341.0,1297.6 L341.6,1297.1 L342.2,1298.5 L342.8,1301.0 L343.4,1298.0 L344.0,1297.0 L344.6,1298.5 L345.2,1297.0 L345.8,1298.1 L346.4,1296.6 L347.0,1298.3 L347.6,1297.4 L348.2,1298.7 L348.8,1297.4 L349.4,1298.7 L350.0,1296.6 L350.6,1299.6 L351.3,1298.9 L351.9,1298.0 L352.5,1296.8 L353.1,1297.3 L353.7,1295.6 L354.3,1296.2 L354.9,1298.0 L355.5,1297.1 L356.1,1298.7 L356.7,1298.2 L357.3,1296.8 L357.9,1293.7 L358.5,1299.0 L359.1,1298.3 L359.7,1298.5 L360.3,1301.4 L360.9,1298.9 L361.5,1298.1 L362.1,1298.5 L362.7,1296.3 L363.3,1300.8 L364.0,1299.2 L364.6,1298.3 L365.2,1300.8 L365.8,1297.4 L366.4,1299.2 L367.0,1297.9 L367.6,1300.6 L368.2,1299.9 L368.8,1298.7 L369.4,1298.4 L370.0,1299.0 L370.6,1298.9 L371.2,1299.8 L371.8,1298.7 L372.4,1299.7 L373.0,1300.4 L373.7,1299.0 L374.3,1298.1 L374.9,1298.8 L375.5,1299.3 L376.1,1305.3 L376.7,1301.9 L377.3,1301.1 L377.9,1300.6 L378.5,1301.5 L379.1,1300.8 L379.8,1301.7 L380.4,1300.0 L381.0,1300.4 L381.6,1299.4 L382.2,1299.8 L382.8,1297.2 L383.4,1297.5 L384.0,1301.5 L384.6,1300.6 L385.2,1300.6 L385.8,1302.5 L386.5,1300.7 L387.1,1303.8 L387.7,1302.5 L388.3,1299.8 L388.9,1301.2 L389.5,1301.5 L390.1,1300.8 L390.7,1302.4 L391.3,1301.1 L391.9,1299.1 L392.5,1301.3 L393.1,1299.5 L393.7,1299.2 L394.3,1297.4 L394.9,1302.4 L395.5,1300.5 L396.1,1300.7 L396.7,1301.3 L397.3,1300.3 L397.9,1300.7 L398.5,1301.3 L399.1,1303.2 L399.7,1302.5 L400.3,1302.2 L400.9,1301.7 L401.5,1303.5 L402.1,1303.6 L402.7,1303.6 L403.3,1304.0 L403.9,1302.6 L404.5,1303.0 L405.1,1302.5 L405.7,1301.8 L406.3,1298.6 L406.9,1300.8 L407.5,1301.5 L413.0,1295.0 L413.3,1293.7 L413.5,1292.3 L413.8,1290.8 L414.1,1289.2 L414.4,1287.4 L414.6,1285.5 L414.9,1283.5 L415.2,1281.4 L415.5,1279.5 L415.7,1278.0 L416.0,1277.5 L416.5,1278.0 L417.0,1279.4 L417.5,1281.3 L418.0,1283.3 L418.5,1285.2 L419.1,1287.1 L419.6,1288.8 L420.1,1290.4 L420.6,1291.8 L421.1,1293.2 L421.6,1294.4 L433.7,1285.6 L438.1,1276.9 L439.8,1250.5 L444.6,1260.4 L447.9,1248.3 L450.1,1200.0 L451.5,1193.0 L451.6,1185.5 L451.8,1177.4 L451.9,1168.7 L452.0,1159.2 L452.2,1148.9 L452.3,1137.8 L452.5,1126.0 L452.6,1114.0 L452.7,1102.9 L452.9,1094.6 L453.0,1091.4 L453.4,1092.0 L453.9,1093.8 L454.3,1096.0 L454.7,1098.5 L455.2,1100.9 L455.6,1103.2 L456.1,1105.3 L456.5,1107.2 L456.9,1109.0 L457.4,1110.7 L457.8,1112.2 L462.2,1151.7 L468.8,1182.5 L475.4,1213.2 L480.9,1235.1 L484.2,1242.8 L484.3,1235.8 L484.4,1228.3 L484.5,1220.2 L484.6,1211.4 L484.7,1201.8 L484.8,1191.5 L484.9,1180.5 L485.0,1169.4 L485.1,1159.1 L485.2,1151.3 L485.3,1148.4 L485.8,1149.2 L486.3,1151.3 L486.8,1154.0 L487.3,1157.0 L487.8,1159.9 L488.2,1162.7 L488.7,1165.3 L489.2,1167.6 L489.7,1169.8 L490.2,1171.8 L490.7,1173.7 L496.2,1213.2 L501.7,1243.9 L507.2,1259.3 L512.3,1268.1 L512.5,1260.6 L512.7,1252.4 L512.9,1243.6 L513.1,1234.1 L513.3,1223.7 L513.5,1212.6 L513.7,1200.8 L513.9,1188.7 L514.1,1177.5 L514.3,1169.2 L514.5,1166.0 L515.0,1167.1 L515.6,1169.8 L516.1,1173.6 L516.6,1177.6 L517.2,1181.5 L517.7,1185.2 L518.3,1188.7 L518.8,1191.9 L519.3,1194.8 L519.9,1197.5 L520.4,1200.0 L525.2,1227.5 L530.4,1258.6 L534.3,1269.0 L539.5,1282.0 L539.9,1274.7 L540.2,1266.8 L540.6,1258.2 L540.9,1249.0 L541.3,1238.9 L541.6,1228.1 L542.0,1216.6 L542.3,1204.9 L542.7,1194.0 L543.0,1185.9 L543.4,1182.8 L543.9,1183.7 L544.3,1186.1 L544.8,1189.3 L545.3,1192.7 L545.7,1196.1 L546.2,1199.3 L546.6,1202.2 L547.1,1204.9 L547.6,1207.4 L548.0,1209.8 L548.5,1211.9 L552.4,1245.6 L557.6,1276.8 L562.8,1287.1 L568.0,1315.7 L568.6,1312.4 L569.3,1308.7 L569.9,1304.8 L570.5,1300.6 L571.2,1296.0 L571.8,1291.0 L572.5,1285.8 L573.1,1280.4 L573.7,1275.4 L574.4,1271.7 L575.0,1270.3 L575.4,1271.1 L575.9,1273.1 L576.3,1275.8 L576.7,1278.7 L577.1,1281.5 L577.6,1284.2 L578.0,1286.7 L578.4,1289.0 L578.8,1291.1 L579.3,1293.1 L579.7,1294.9 L583.6,1318.3 L584.2,1318.3 L584.8,1318.2 L585.5,1319.5 L586.1,1318.5 L586.7,1318.5 L587.3,1318.2 L587.9,1320.3 L588.5,1322.1 L589.2,1321.3 L589.8,1321.0 L590.4,1322.0 L591.0,1319.9 L591.6,1321.8 L592.2,1324.2 L592.9,1323.8 L593.5,1323.5 L594.1,1323.4 L594.7,1323.8 L595.3,1324.8 L595.9,1322.2 L596.6,1321.5 L597.2,1321.0 L597.8,1323.5 L598.3,1322.1 L598.8,1320.5 L599.4,1318.8 L599.9,1317.0 L600.4,1315.0 L600.9,1312.9 L601.4,1310.6 L601.9,1308.3 L602.5,1306.2 L603.0,1304.6 L603.5,1304.0 L603.9,1304.6 L604.4,1306.2 L604.8,1308.3 L605.2,1310.6 L605.6,1312.9 L606.1,1315.0 L606.5,1317.0 L606.9,1318.8 L607.3,1320.5 L607.8,1322.1 L608.2,1323.5 L608.8,1322.5 L609.4,1323.9 L610.1,1324.3 L610.7,1324.7 L611.3,1322.7 L611.9,1325.8 L612.6,1324.1 L613.2,1325.7 L613.8,1325.8 L614.4,1325.6 L615.1,1325.3 L615.7,1325.0 L616.3,1323.7 L616.9,1324.6 L617.6,1324.8 L618.2,1325.8 L618.8,1323.8 L619.4,1325.0 L620.1,1324.9 L620.7,1323.4 L621.3,1326.2 L621.9,1324.1 L622.6,1325.6 L623.2,1323.6 L623.8,1324.8 L624.4,1325.7 L625.0,1325.1 L625.6,1325.3 L626.2,1326.6 L626.8,1328.6 L627.4,1324.2 L628.0,1324.7 L628.6,1326.3 L629.2,1327.5 L629.8,1327.6 L630.4,1329.0 L631.0,1326.4 L631.6,1326.4 L632.2,1327.6 L632.8,1326.4 L633.4,1326.6 L634.0,1327.1 L634.6,1328.2 L635.2,1326.7 L635.8,1327.2 L636.4,1328.1 L637.1,1326.8 L637.7,1327.4 L638.3,1324.5 L638.9,1326.0 L639.5,1326.8 L640.1,1325.0 L640.7,1326.7 L641.3,1327.6 L641.9,1327.5 L642.5,1326.4 L643.1,1327.0 L643.7,1327.3 L644.3,1325.8 L644.9,1328.7 L645.5,1326.8 L646.1,1329.9 L646.7,1329.5 L647.3,1330.3 L647.9,1329.3 L648.5,1329.0 L649.1,1328.3 L649.7,1328.7 L650.3,1325.3 L650.9,1326.7 L651.5,1326.6 L652.1,1326.4 L652.7,1328.5 L653.3,1329.9 L653.9,1330.9 L654.5,1328.5 L655.1,1329.4 L655.7,1330.2 L656.4,1330.2 L657.0,1330.5 L657.6,1330.3 L658.2,1328.9 L658.8,1331.1 L659.4,1328.4 L660.0,1331.6 L660.6,1331.5 L661.2,1326.8 L661.8,1329.3 L662.4,1329.7 L663.0,1328.8 L663.6,1331.0 L664.2,1330.7 L664.8,1328.9 L665.4,1330.7 L666.0,1332.1 L666.6,1334.7 L667.2,1333.2 L667.8,1333.6 L668.4,1333.5 L669.0,1333.0 L669.7,1331.4 L670.3,1332.8 L670.9,1331.6 L671.5,1334.3 L672.1,1330.0 L672.7,1331.9 L673.3,1331.1 L673.9,1330.9 L674.5,1331.8 L675.1,1332.2 L675.7,1332.5 L676.3,1331.0 L676.9,1331.7 L677.5,1329.6 L678.1,1332.1 L678.7,1335.1 L679.3,1332.1 L679.9,1333.9 L680.5,1334.3 L681.1,1334.8 L681.7,1335.0 L682.3,1337.0 L682.9,1334.2 L683.5,1334.3 L684.1,1332.8 L684.7,1334.1 L685.3,1332.3 L685.9,1334.8 L686.5,1334.8 L687.1,1334.2 L687.7,1334.5 L688.3,1333.6 L689.0,1330.7 L689.6,1333.8 L690.2,1334.3 L690.8,1336.1 L691.4,1333.5 L692.0,1333.6 L692.6,1333.0 L693.2,1334.2 L693.8,1334.8 L694.4,1334.4 L695.0,1335.2 L695.6,1337.3 L696.2,1335.0 L696.8,1335.6 L697.4,1334.6 L698.0,1333.4 L698.6,1335.0 L699.2,1338.3 L699.8,1333.7 L700.4,1335.8 L701.0,1334.6 L701.6,1336.4 L702.2,1333.3 L702.8,1333.9 L703.4,1335.1 L704.0,1334.6 L704.6,1335.6 L705.2,1335.9 L705.8,1335.3 L706.4,1336.8 L707.0,1335.9 L707.6,1336.5 L708.3,1338.0 L708.9,1336.2 L709.5,1336.2 L710.1,1336.6 L710.7,1337.0 L711.3,1337.2 L711.9,1336.5 L712.5,1338.0 L713.1,1337.0 L713.7,1337.1 L714.3,1339.1 L714.9,1338.2 L715.5,1339.2 L716.1,1339.2 L716.7,1338.1 L717.3,1339.9 L717.9,1339.1 L718.5,1339.9 L719.1,1339.7 L719.7,1338.6 L720.3,1339.7 L720.9,1336.7 L721.6,1339.7 L722.2,1335.2 L722.8,1339.5 L723.4,1340.6 L724.0,1338.7 L724.6,1338.0 L725.2,1335.0 L725.8,1338.7 L726.4,1336.9 L727.0,1340.4 L727.6,1339.0 L728.2,1340.2 L728.8,1337.5 L729.4,1340.5 L730.0,1339.2 L730.6,1339.7 L731.2,1341.9 L731.9,1337.7 L732.5,1341.0 L733.1,1339.4 L733.7,1339.4 L734.3,1338.3 L734.9,1338.8 L735.5,1339.6 L736.1,1341.8 L736.7,1338.5 L737.3,1338.3 L737.9,1341.1 L738.5,1339.6 L739.1,1339.7 L739.8,1341.2 L740.4,1340.2 L741.0,1340.4 L741.6,1340.6 L742.2,1339.7 L742.8,1340.8 L743.4,1339.9 L744.0,1341.6 L744.6,1340.0 L745.2,1339.2 L745.8,1337.6 L746.4,1342.0 L747.0,1342.0 L747.7,1340.9 L748.3,1340.4 L748.9,1337.2 L749.5,1341.5 L750.1,1340.3 L750.7,1342.2 L751.3,1339.9 L751.9,1340.9 L752.5,1343.9 L753.1,1343.7 L753.7,1340.5 L754.3,1340.3 L755.0,1341.2 L755.6,1341.6 L756.2,1341.9 L756.8,1342.2 L757.4,1342.9 L758.0,1342.8 L758.6,1338.8 L759.2,1338.4 L759.8,1341.7 L760.4,1340.2 L761.0,1341.0 L761.6,1343.1 L762.2,1340.7 L762.9,1339.8 L763.5,1342.5 L764.1,1344.4 L764.7,1343.3 L765.3,1348.1 L765.9,1345.1 L766.5,1342.9" fill="none" stroke="#f07c12" stroke-width="2.6" stroke-linejoin="round" stroke-linecap="butt"/>
<text x="151.2" y="30.2" font-size="36.0" textLength="44.86" lengthAdjust="spacingAndGlyphs" stroke="#fff" stroke-width="0.4">(a)</text>
<text x="540.1" y="37.85" font-size="30.5" textLength="44.57" lengthAdjust="spacingAndGlyphs" stroke="#f2f2f2" stroke-width="0.4">BP</text>
<text x="614.95" y="75.65" font-size="30.5" textLength="35.57" lengthAdjust="spacingAndGlyphs" stroke="#f2f2f2" stroke-width="0.4">S2</text>
<text x="663.55" y="90.85" font-size="30.5" textLength="35.46" lengthAdjust="spacingAndGlyphs" stroke="#f2f2f2" stroke-width="0.4">S4</text>
<text x="527.15" y="121.55" font-size="30.5" textLength="58.56" lengthAdjust="spacingAndGlyphs" stroke="#f2f2f2" stroke-width="0.4">AS2</text>
<text x="716.9" y="129.55" font-size="30.5" textLength="35.44" lengthAdjust="spacingAndGlyphs" stroke="#f2f2f2" stroke-width="0.4">S6</text>
<text x="749.65" y="172.55" font-size="30.5" textLength="35.35" lengthAdjust="spacingAndGlyphs" stroke="#f2f2f2" stroke-width="0.4">S8</text>
<text x="787.5" y="310.25" font-size="30.5" textLength="121.31" lengthAdjust="spacingAndGlyphs" stroke="#f2f2f2" stroke-width="0.4">150 mW</text>
<text x="737.9" y="395.35" font-size="30.5" textLength="121.52" lengthAdjust="spacingAndGlyphs" stroke="#f2f2f2" stroke-width="0.4">120 mW</text>
<text x="697.0" y="481.95" font-size="30.5" textLength="101.12" lengthAdjust="spacingAndGlyphs" stroke="#f2f2f2" stroke-width="0.4">80 mW</text>
<text x="638.45" y="573.5" font-size="30.5" textLength="103.94" lengthAdjust="spacingAndGlyphs" stroke="#f2f2f2" stroke-width="0.4">20 mW</text>
<text x="149.35" y="600.45" font-size="33.0" textLength="104.94" lengthAdjust="spacingAndGlyphs" stroke="#fff" stroke-width="0.4">1558.5</text>
<text x="293.8" y="619.75" font-size="33.0" textLength="105.15" lengthAdjust="spacingAndGlyphs" stroke="#fff" stroke-width="0.4">1559.5</text>
<text x="447.1" y="645.2" font-size="33.0" textLength="105.77" lengthAdjust="spacingAndGlyphs" stroke="#fff" stroke-width="0.4">1560.5</text>
<text x="621.65" y="670.7" font-size="33.0" textLength="104.11" lengthAdjust="spacingAndGlyphs" stroke="#fff" stroke-width="0.4">1561.5</text>
<text x="151.2" y="824.2" font-size="36.0" textLength="46.86" lengthAdjust="spacingAndGlyphs" stroke="#fff" stroke-width="0.4">(b)</text>
<text x="190.05" y="1353.35" font-size="33.0" textLength="105.36" lengthAdjust="spacingAndGlyphs" stroke="#fff" stroke-width="0.4">1558.5</text>
<text x="338.4" y="1370.4" font-size="33.0" textLength="105.15" lengthAdjust="spacingAndGlyphs" stroke="#fff" stroke-width="0.4">1559.5</text>
<text x="492.8" y="1389.3" font-size="33.0" textLength="104.73" lengthAdjust="spacingAndGlyphs" stroke="#fff" stroke-width="0.4">1560.5</text>
<text x="655.95" y="1405.35" font-size="33.0" textLength="102.64" lengthAdjust="spacingAndGlyphs" stroke="#fff" stroke-width="0.4">1561.5</text>
<text x="97.75" y="345.2" font-size="33.0" textLength="37.34" lengthAdjust="spacingAndGlyphs" stroke="#fff" stroke-width="0.4">15</text>
<text x="108.1" y="401.2" font-size="33.0" textLength="37.4" lengthAdjust="spacingAndGlyphs" stroke="#fff" stroke-width="0.4">30</text>
<text x="121.1" y="458.2" font-size="33.0" textLength="33.65" lengthAdjust="spacingAndGlyphs" stroke="#fff" stroke-width="0.4">45</text>
<text x="129.05" y="512.05" font-size="33.0" textLength="36.21" lengthAdjust="spacingAndGlyphs" stroke="#fff" stroke-width="0.4">60</text>
<text x="139.4" y="566.5" font-size="33.0" textLength="36.54" lengthAdjust="spacingAndGlyphs" stroke="#fff" stroke-width="0.4">75</text>
<text x="140.75" y="1128.05" font-size="33.0" textLength="38.24" lengthAdjust="spacingAndGlyphs" stroke="#fff" stroke-width="0.4">15</text>
<text x="151.9" y="1179.45" font-size="33.0" textLength="36.97" lengthAdjust="spacingAndGlyphs" stroke="#fff" stroke-width="0.4">30</text>
<text x="162.55" y="1228.65" font-size="33.0" textLength="35.56" lengthAdjust="spacingAndGlyphs" stroke="#fff" stroke-width="0.4">45</text>
<text x="173.3" y="1275.05" font-size="33.0" textLength="36.19" lengthAdjust="spacingAndGlyphs" stroke="#fff" stroke-width="0.4">60</text>
<text x="183.15" y="1322.2" font-size="33.0" textLength="35.64" lengthAdjust="spacingAndGlyphs" stroke="#fff" stroke-width="0.4">75</text>
<rect x="72.00" y="335.95" width="21.90" height="1.5" fill="#000"/>
<rect x="81.20" y="391.95" width="21.90" height="1.5" fill="#000"/>
<rect x="93.00" y="448.95" width="21.90" height="1.5" fill="#000"/>
<rect x="101.40" y="502.80" width="21.90" height="1.5" fill="#000"/>
<rect x="112.60" y="557.25" width="21.90" height="1.5" fill="#000"/>
<rect x="114.90" y="1118.80" width="21.90" height="1.5" fill="#000"/>
<rect x="125.30" y="1170.20" width="21.90" height="1.5" fill="#000"/>
<rect x="134.60" y="1219.40" width="21.90" height="1.5" fill="#000"/>
<rect x="145.40" y="1265.80" width="21.90" height="1.5" fill="#000"/>
<rect x="156.20" y="1312.95" width="21.90" height="1.5" fill="#000"/>
<text x="76.15" y="644.0" font-size="35.0" textLength="351.54" lengthAdjust="spacingAndGlyphs" transform="rotate(-98 76.15 644.0)" stroke="#fff" stroke-width="0.4">Optical power (dBm)</text>
<text x="870.4" y="505.65" font-size="35.0" textLength="92.3" lengthAdjust="spacingAndGlyphs" transform="rotate(-63 870.4 505.65)" stroke="#fff" stroke-width="0.4">Trace</text>
<text x="109.45" y="1372.0" font-size="35.0" textLength="352.3" lengthAdjust="spacingAndGlyphs" transform="rotate(-100.5 109.45 1372.0)" stroke="#fff" stroke-width="0.4">Optical power (dBm)</text>
<text x="869.4" y="1263.65" font-size="35.0" textLength="90.38" lengthAdjust="spacingAndGlyphs" transform="rotate(-58 869.4 1263.65)" stroke="#fff" stroke-width="0.4">Trace</text>
<text x="830.55" y="1043.15" font-size="30.5" textLength="119.13" lengthAdjust="spacingAndGlyphs" transform="rotate(5.0 830.55 1043.15)" stroke="#f2f2f2" stroke-width="0.4">150 mW</text>
<text x="767.9" y="1136.3" font-size="30.5" textLength="117.71" lengthAdjust="spacingAndGlyphs" transform="rotate(4.3 767.9 1136.3)" stroke="#f2f2f2" stroke-width="0.4">120 mW</text>
<text x="728.1" y="1228.25" font-size="30.5" textLength="104.55" lengthAdjust="spacingAndGlyphs" transform="rotate(2.5 728.1 1228.25)" stroke="#f2f2f2" stroke-width="0.4">80 mW</text>
<text x="672.45" y="1323.4" font-size="30.5" textLength="102.13" lengthAdjust="spacingAndGlyphs" transform="rotate(2.5 672.45 1323.4)" stroke="#f2f2f2" stroke-width="0.4">20 mW</text>
<text x="233.85" y="671.7" font-size="35.0" textLength="190.58" lengthAdjust="spacingAndGlyphs" transform="rotate(6 233.85 671.7)" stroke="#fff" stroke-width="0.4">Wavelength</text>
<text x="439.6" y="694.85" font-size="35.0" textLength="77.5" lengthAdjust="spacingAndGlyphs" transform="rotate(6 439.6 694.85)" stroke="#fff" stroke-width="0.4">(nm)</text>
<text x="304.55" y="1413.1" font-size="35.0" textLength="189.97" lengthAdjust="spacingAndGlyphs" transform="rotate(5 304.55 1413.1)" stroke="#fff" stroke-width="0.4">Wavelength</text>
<text x="509.1" y="1432.75" font-size="35.0" textLength="78.52" lengthAdjust="spacingAndGlyphs" transform="rotate(5 509.1 1432.75)" stroke="#fff" stroke-width="0.4">(nm)</text>
<line x1="579" y1="41.8" x2="592.71" y2="54.53" stroke="#000" stroke-width="2"/>
<polygon points="601.50,62.70 588.32,56.32 594.17,50.02" fill="#000"/>
<line x1="629" y1="81" x2="629.00" y2="108.10" stroke="#000" stroke-width="2"/>
<polygon points="629.00,120.10 624.70,106.10 633.30,106.10" fill="#000"/>
<line x1="667.5" y1="99.2" x2="659.97" y2="121.34" stroke="#000" stroke-width="2"/>
<polygon points="656.10,132.70 656.54,118.06 664.68,120.83" fill="#000"/>
<line x1="712.8" y1="125.7" x2="696.75" y2="137.57" stroke="#000" stroke-width="2"/>
<polygon points="687.10,144.70 695.80,132.92 700.91,139.83" fill="#000"/>
<line x1="746.9" y1="166.8" x2="731.90" y2="179.02" stroke="#000" stroke-width="2"/>
<polygon points="722.60,186.60 730.74,174.42 736.17,181.09" fill="#000"/>
<line x1="573" y1="132.6" x2="584.86" y2="230.49" stroke="#000" stroke-width="2"/>
<polygon points="586.30,242.40 580.35,229.02 588.89,227.98" fill="#000"/>
</svg></body></html>
